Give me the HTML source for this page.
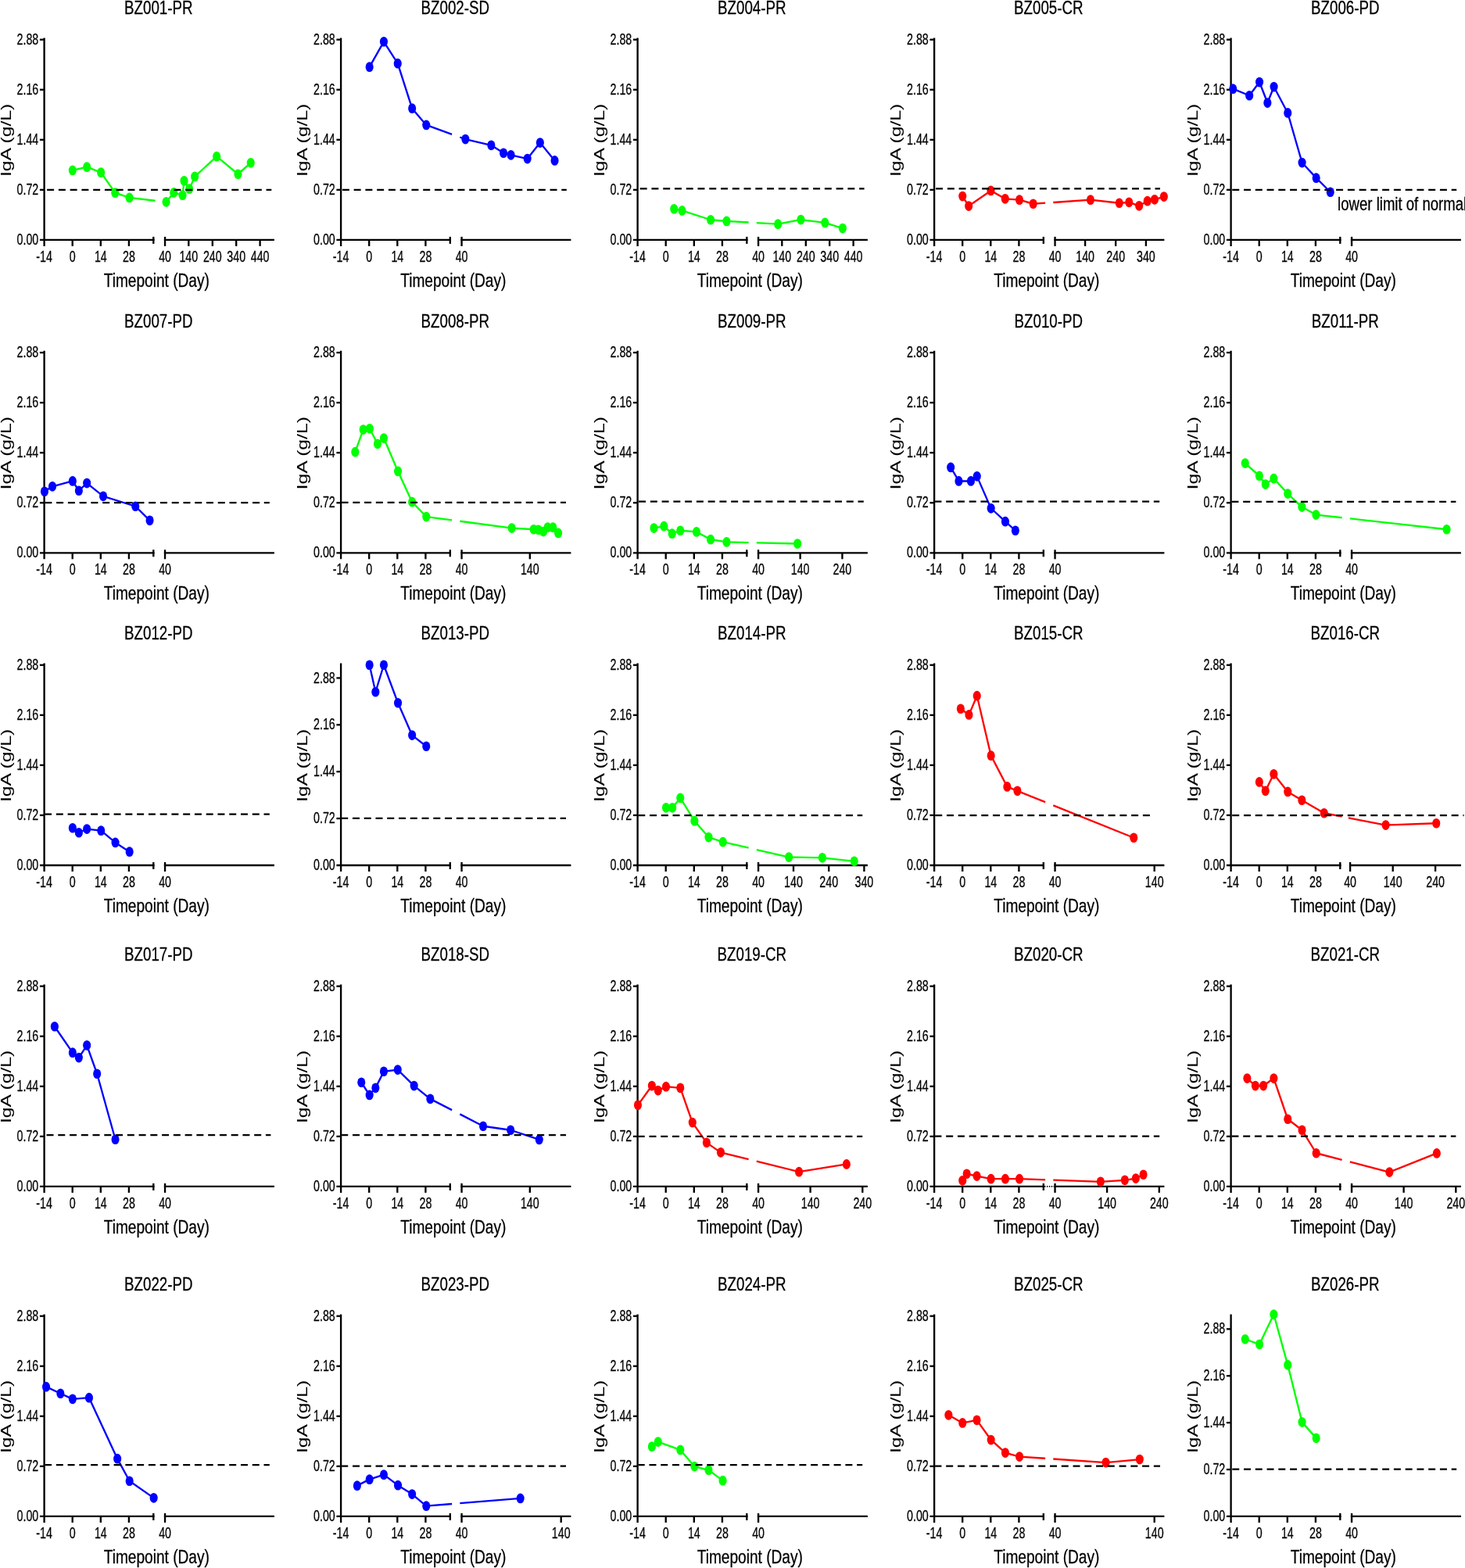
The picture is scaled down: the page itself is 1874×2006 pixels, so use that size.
<!DOCTYPE html>
<html lang="en">
<head>
<meta charset="utf-8">
<title>Serum IgA over time by patient</title>
<style>
html, body { margin: 0; padding: 0; background: #fff; }
body { width: 1874px; height: 2006px; overflow: hidden; }
svg { display: block; }
svg text { font-family: "Liberation Sans", sans-serif; fill: #000; stroke: #000; stroke-linejoin: round; }
text.t { font-size: 24.7px; stroke-width: 0.3; }
text.x { font-size: 24.6px; stroke-width: 0.3; }
text.y { font-size: 24.7px; stroke-width: 0.1; }
text.k { font-size: 19.5px; stroke-width: 0.3; }
text.n { font-size: 23.7px; stroke-width: 0.3; }
.ax path { stroke: #000; fill: none; }
.dl { fill: none; stroke: #000; stroke-width: 2.25; stroke-dasharray: 9 5.76; }
.ln { fill: none; stroke-width: 2.35; stroke-linejoin: round; }
.m { stroke: none; }
</style>
</head>
<body>
<svg width="1874" height="2006" viewBox="0 0 1874 2006">
<rect x="0" y="0" width="1874" height="2006" fill="#fff"/>
<g class="panel">
<text class="t" transform="translate(202.8 18.3) scale(0.758 1)" text-anchor="middle">BZ001-PR</text>
<g class="ax">
<path d="M56.6 48.4V314.9" stroke-width="2.35"/>
<path d="M50.9 242.85H56.6" stroke-width="2.3"/>
<path d="M50.9 178.8H56.6" stroke-width="2.3"/>
<path d="M50.9 114.75H56.6" stroke-width="2.3"/>
<path d="M50.9 50.7H56.6" stroke-width="2.3"/>
<path d="M50.9 306.9H197.47" stroke-width="2.3"/>
<path d="M209.87 306.9H350.9" stroke-width="2.3"/>
<path d="M92.7 306.9V314.9" stroke-width="2.35"/>
<path d="M128.8 306.9V314.9" stroke-width="2.35"/>
<path d="M164.9 306.9V314.9" stroke-width="2.35"/>
<path d="M196.3 302.9V311.9" stroke-width="2.35"/>
<path d="M211.05 302.9V314.9" stroke-width="2.35"/>
<path d="M241.3 306.9V314.9" stroke-width="2.35"/>
<path d="M271.8 306.9V314.9" stroke-width="2.35"/>
<path d="M302.2 306.9V314.9" stroke-width="2.35"/>
<path d="M332.6 306.9V314.9" stroke-width="2.35"/>
</g>
<text class="k" transform="translate(49.3 313) scale(0.731 1)" text-anchor="end">0.00</text>
<text class="k" transform="translate(49.3 248.95) scale(0.731 1)" text-anchor="end">0.72</text>
<text class="k" transform="translate(49.3 184.9) scale(0.731 1)" text-anchor="end">1.44</text>
<text class="k" transform="translate(49.3 120.85) scale(0.731 1)" text-anchor="end">2.16</text>
<text class="k" transform="translate(49.3 56.8) scale(0.731 1)" text-anchor="end">2.88</text>
<text class="k" transform="translate(56.6 334.9) scale(0.731 1)" text-anchor="middle">-14</text>
<text class="k" transform="translate(92.7 334.9) scale(0.731 1)" text-anchor="middle">0</text>
<text class="k" transform="translate(128.8 334.9) scale(0.731 1)" text-anchor="middle">14</text>
<text class="k" transform="translate(164.9 334.9) scale(0.731 1)" text-anchor="middle">28</text>
<text class="k" transform="translate(211.05 334.9) scale(0.731 1)" text-anchor="middle">40</text>
<text class="k" transform="translate(241.3 334.9) scale(0.731 1)" text-anchor="middle">140</text>
<text class="k" transform="translate(271.8 334.9) scale(0.731 1)" text-anchor="middle">240</text>
<text class="k" transform="translate(302.2 334.9) scale(0.731 1)" text-anchor="middle">340</text>
<text class="k" transform="translate(332.6 334.9) scale(0.731 1)" text-anchor="middle">440</text>
<text class="x" transform="translate(200.3 367) scale(0.777 1)" text-anchor="middle">Timepoint (Day)</text>
<text class="y" transform="translate(13.9 179.35) rotate(-90) scale(1 0.777)" text-anchor="middle">IgA (g/L)</text>
<g fill="#00ff00" stroke="#00ff00">
<polyline class="ln" points="92.85,217.95 111.15,213.65 129.15,220.65 147.25,246.65 165.55,252.95 198.6,256.75"/>
<polyline class="ln" points="208.8,257.92 212.55,258.35 222.25,246.45 233.55,249.65 235.55,231.35 242.15,241.65 249.15,225.95 277.15,200.15 304.45,222.75 320.75,208.25"/>
<ellipse class="m" cx="92.85" cy="217.95" rx="5.05" ry="6.35"/>
<ellipse class="m" cx="111.15" cy="213.65" rx="5.05" ry="6.35"/>
<ellipse class="m" cx="129.15" cy="220.65" rx="5.05" ry="6.35"/>
<ellipse class="m" cx="147.25" cy="246.65" rx="5.05" ry="6.35"/>
<ellipse class="m" cx="165.55" cy="252.95" rx="5.05" ry="6.35"/>
<ellipse class="m" cx="212.55" cy="258.35" rx="5.05" ry="6.35"/>
<ellipse class="m" cx="222.25" cy="246.45" rx="5.05" ry="6.35"/>
<ellipse class="m" cx="233.55" cy="249.65" rx="5.05" ry="6.35"/>
<ellipse class="m" cx="235.55" cy="231.35" rx="5.05" ry="6.35"/>
<ellipse class="m" cx="242.15" cy="241.65" rx="5.05" ry="6.35"/>
<ellipse class="m" cx="249.15" cy="225.95" rx="5.05" ry="6.35"/>
<ellipse class="m" cx="277.15" cy="200.15" rx="5.05" ry="6.35"/>
<ellipse class="m" cx="304.45" cy="222.75" rx="5.05" ry="6.35"/>
<ellipse class="m" cx="320.75" cy="208.25" rx="5.05" ry="6.35"/>
</g>
<path class="dl" d="M60.1 242.8H347.3" stroke-dashoffset="0"/>
</g>
<g class="panel">
<text class="t" transform="translate(582.3 18.3) scale(0.758 1)" text-anchor="middle">BZ002-SD</text>
<g class="ax">
<path d="M436.1 48.4V314.9" stroke-width="2.35"/>
<path d="M430.4 242.85H436.1" stroke-width="2.3"/>
<path d="M430.4 178.8H436.1" stroke-width="2.3"/>
<path d="M430.4 114.75H436.1" stroke-width="2.3"/>
<path d="M430.4 50.7H436.1" stroke-width="2.3"/>
<path d="M430.4 306.9H576.97" stroke-width="2.3"/>
<path d="M589.38 306.9H730.4" stroke-width="2.3"/>
<path d="M472.2 306.9V314.9" stroke-width="2.35"/>
<path d="M508.3 306.9V314.9" stroke-width="2.35"/>
<path d="M544.4 306.9V314.9" stroke-width="2.35"/>
<path d="M575.8 302.9V311.9" stroke-width="2.35"/>
<path d="M590.55 302.9V314.9" stroke-width="2.35"/>
</g>
<text class="k" transform="translate(428.8 313) scale(0.731 1)" text-anchor="end">0.00</text>
<text class="k" transform="translate(428.8 248.95) scale(0.731 1)" text-anchor="end">0.72</text>
<text class="k" transform="translate(428.8 184.9) scale(0.731 1)" text-anchor="end">1.44</text>
<text class="k" transform="translate(428.8 120.85) scale(0.731 1)" text-anchor="end">2.16</text>
<text class="k" transform="translate(428.8 56.8) scale(0.731 1)" text-anchor="end">2.88</text>
<text class="k" transform="translate(436.1 334.9) scale(0.731 1)" text-anchor="middle">-14</text>
<text class="k" transform="translate(472.2 334.9) scale(0.731 1)" text-anchor="middle">0</text>
<text class="k" transform="translate(508.3 334.9) scale(0.731 1)" text-anchor="middle">14</text>
<text class="k" transform="translate(544.4 334.9) scale(0.731 1)" text-anchor="middle">28</text>
<text class="k" transform="translate(590.55 334.9) scale(0.731 1)" text-anchor="middle">40</text>
<text class="x" transform="translate(579.8 367) scale(0.777 1)" text-anchor="middle">Timepoint (Day)</text>
<text class="y" transform="translate(393.4 179.35) rotate(-90) scale(1 0.777)" text-anchor="middle">IgA (g/L)</text>
<g fill="#0000ff" stroke="#0000ff">
<polyline class="ln" points="472.65,85.65 490.95,53.35 508.75,81.15 527.15,138.65 545.25,159.95 578.1,171.82"/>
<polyline class="ln" points="588.3,175.5 595.35,178.05 628.35,185.85 644.05,195.75 653.55,198.35 674.65,203.05 690.85,182.55 709.55,205.45"/>
<ellipse class="m" cx="472.65" cy="85.65" rx="5.05" ry="6.35"/>
<ellipse class="m" cx="490.95" cy="53.35" rx="5.05" ry="6.35"/>
<ellipse class="m" cx="508.75" cy="81.15" rx="5.05" ry="6.35"/>
<ellipse class="m" cx="527.15" cy="138.65" rx="5.05" ry="6.35"/>
<ellipse class="m" cx="545.25" cy="159.95" rx="5.05" ry="6.35"/>
<ellipse class="m" cx="595.35" cy="178.05" rx="5.05" ry="6.35"/>
<ellipse class="m" cx="628.35" cy="185.85" rx="5.05" ry="6.35"/>
<ellipse class="m" cx="644.05" cy="195.75" rx="5.05" ry="6.35"/>
<ellipse class="m" cx="653.55" cy="198.35" rx="5.05" ry="6.35"/>
<ellipse class="m" cx="674.65" cy="203.05" rx="5.05" ry="6.35"/>
<ellipse class="m" cx="690.85" cy="182.55" rx="5.05" ry="6.35"/>
<ellipse class="m" cx="709.55" cy="205.45" rx="5.05" ry="6.35"/>
</g>
<path class="dl" d="M437.86 242.8H724.8" stroke-dashoffset="0"/>
</g>
<g class="panel">
<text class="t" transform="translate(961.8 18.3) scale(0.758 1)" text-anchor="middle">BZ004-PR</text>
<g class="ax">
<path d="M815.6 48.4V314.9" stroke-width="2.35"/>
<path d="M809.9 242.85H815.6" stroke-width="2.3"/>
<path d="M809.9 178.8H815.6" stroke-width="2.3"/>
<path d="M809.9 114.75H815.6" stroke-width="2.3"/>
<path d="M809.9 50.7H815.6" stroke-width="2.3"/>
<path d="M809.9 306.9H956.47" stroke-width="2.3"/>
<path d="M968.88 306.9H1109.9" stroke-width="2.3"/>
<path d="M851.7 306.9V314.9" stroke-width="2.35"/>
<path d="M887.8 306.9V314.9" stroke-width="2.35"/>
<path d="M923.9 306.9V314.9" stroke-width="2.35"/>
<path d="M955.3 302.9V311.9" stroke-width="2.35"/>
<path d="M970.05 302.9V314.9" stroke-width="2.35"/>
<path d="M1000.3 306.9V314.9" stroke-width="2.35"/>
<path d="M1030.8 306.9V314.9" stroke-width="2.35"/>
<path d="M1061.2 306.9V314.9" stroke-width="2.35"/>
<path d="M1091.6 306.9V314.9" stroke-width="2.35"/>
</g>
<text class="k" transform="translate(808.3 313) scale(0.731 1)" text-anchor="end">0.00</text>
<text class="k" transform="translate(808.3 248.95) scale(0.731 1)" text-anchor="end">0.72</text>
<text class="k" transform="translate(808.3 184.9) scale(0.731 1)" text-anchor="end">1.44</text>
<text class="k" transform="translate(808.3 120.85) scale(0.731 1)" text-anchor="end">2.16</text>
<text class="k" transform="translate(808.3 56.8) scale(0.731 1)" text-anchor="end">2.88</text>
<text class="k" transform="translate(815.6 334.9) scale(0.731 1)" text-anchor="middle">-14</text>
<text class="k" transform="translate(851.7 334.9) scale(0.731 1)" text-anchor="middle">0</text>
<text class="k" transform="translate(887.8 334.9) scale(0.731 1)" text-anchor="middle">14</text>
<text class="k" transform="translate(923.9 334.9) scale(0.731 1)" text-anchor="middle">28</text>
<text class="k" transform="translate(970.05 334.9) scale(0.731 1)" text-anchor="middle">40</text>
<text class="k" transform="translate(1000.3 334.9) scale(0.731 1)" text-anchor="middle">140</text>
<text class="k" transform="translate(1030.8 334.9) scale(0.731 1)" text-anchor="middle">240</text>
<text class="k" transform="translate(1061.2 334.9) scale(0.731 1)" text-anchor="middle">340</text>
<text class="k" transform="translate(1091.6 334.9) scale(0.731 1)" text-anchor="middle">440</text>
<text class="x" transform="translate(959.3 367) scale(0.777 1)" text-anchor="middle">Timepoint (Day)</text>
<text class="y" transform="translate(772.9 179.35) rotate(-90) scale(1 0.777)" text-anchor="middle">IgA (g/L)</text>
<g fill="#00ff00" stroke="#00ff00">
<polyline class="ln" points="862.25,267.25 872.55,269.45 909.05,281.25 929.45,282.95 957.6,284.54"/>
<polyline class="ln" points="967.8,285.11 995.15,286.65 1024.45,281.05 1055.25,284.95 1077.85,292.05"/>
<ellipse class="m" cx="862.25" cy="267.25" rx="5.05" ry="6.35"/>
<ellipse class="m" cx="872.55" cy="269.45" rx="5.05" ry="6.35"/>
<ellipse class="m" cx="909.05" cy="281.25" rx="5.05" ry="6.35"/>
<ellipse class="m" cx="929.45" cy="282.95" rx="5.05" ry="6.35"/>
<ellipse class="m" cx="995.15" cy="286.65" rx="5.05" ry="6.35"/>
<ellipse class="m" cx="1024.45" cy="281.05" rx="5.05" ry="6.35"/>
<ellipse class="m" cx="1055.25" cy="284.95" rx="5.05" ry="6.35"/>
<ellipse class="m" cx="1077.85" cy="292.05" rx="5.05" ry="6.35"/>
</g>
<path class="dl" d="M818.66 241.3H1105.6" stroke-dashoffset="0"/>
</g>
<g class="panel">
<text class="t" transform="translate(1341.3 18.3) scale(0.758 1)" text-anchor="middle">BZ005-CR</text>
<g class="ax">
<path d="M1195.1 48.4V314.9" stroke-width="2.35"/>
<path d="M1189.4 242.85H1195.1" stroke-width="2.3"/>
<path d="M1189.4 178.8H1195.1" stroke-width="2.3"/>
<path d="M1189.4 114.75H1195.1" stroke-width="2.3"/>
<path d="M1189.4 50.7H1195.1" stroke-width="2.3"/>
<path d="M1189.4 306.9H1335.97" stroke-width="2.3"/>
<path d="M1348.38 306.9H1489.4" stroke-width="2.3"/>
<path d="M1231.2 306.9V314.9" stroke-width="2.35"/>
<path d="M1267.3 306.9V314.9" stroke-width="2.35"/>
<path d="M1303.4 306.9V314.9" stroke-width="2.35"/>
<path d="M1334.8 302.9V311.9" stroke-width="2.35"/>
<path d="M1349.55 302.9V314.9" stroke-width="2.35"/>
<path d="M1388.1 306.9V314.9" stroke-width="2.35"/>
<path d="M1427.2 306.9V314.9" stroke-width="2.35"/>
<path d="M1465.9 306.9V314.9" stroke-width="2.35"/>
</g>
<text class="k" transform="translate(1187.8 313) scale(0.731 1)" text-anchor="end">0.00</text>
<text class="k" transform="translate(1187.8 248.95) scale(0.731 1)" text-anchor="end">0.72</text>
<text class="k" transform="translate(1187.8 184.9) scale(0.731 1)" text-anchor="end">1.44</text>
<text class="k" transform="translate(1187.8 120.85) scale(0.731 1)" text-anchor="end">2.16</text>
<text class="k" transform="translate(1187.8 56.8) scale(0.731 1)" text-anchor="end">2.88</text>
<text class="k" transform="translate(1195.1 334.9) scale(0.731 1)" text-anchor="middle">-14</text>
<text class="k" transform="translate(1231.2 334.9) scale(0.731 1)" text-anchor="middle">0</text>
<text class="k" transform="translate(1267.3 334.9) scale(0.731 1)" text-anchor="middle">14</text>
<text class="k" transform="translate(1303.4 334.9) scale(0.731 1)" text-anchor="middle">28</text>
<text class="k" transform="translate(1349.55 334.9) scale(0.731 1)" text-anchor="middle">40</text>
<text class="k" transform="translate(1388.1 334.9) scale(0.731 1)" text-anchor="middle">140</text>
<text class="k" transform="translate(1427.2 334.9) scale(0.731 1)" text-anchor="middle">240</text>
<text class="k" transform="translate(1465.9 334.9) scale(0.731 1)" text-anchor="middle">340</text>
<text class="x" transform="translate(1338.8 367) scale(0.777 1)" text-anchor="middle">Timepoint (Day)</text>
<text class="y" transform="translate(1152.4 179.35) rotate(-90) scale(1 0.777)" text-anchor="middle">IgA (g/L)</text>
<g fill="#ff0000" stroke="#ff0000">
<polyline class="ln" points="1231.25,251.05 1239.15,263.55 1267.45,243.95 1285.75,254.35 1304.05,255.65 1321.65,260.75 1337.1,259.68"/>
<polyline class="ln" points="1347.3,258.97 1394.95,255.65 1431.75,259.75 1444.25,258.85 1457.15,263.35 1467.75,257.15 1476.95,255.35 1488.85,251.55"/>
<ellipse class="m" cx="1231.25" cy="251.05" rx="5.05" ry="6.35"/>
<ellipse class="m" cx="1239.15" cy="263.55" rx="5.05" ry="6.35"/>
<ellipse class="m" cx="1267.45" cy="243.95" rx="5.05" ry="6.35"/>
<ellipse class="m" cx="1285.75" cy="254.35" rx="5.05" ry="6.35"/>
<ellipse class="m" cx="1304.05" cy="255.65" rx="5.05" ry="6.35"/>
<ellipse class="m" cx="1321.65" cy="260.75" rx="5.05" ry="6.35"/>
<ellipse class="m" cx="1394.95" cy="255.65" rx="5.05" ry="6.35"/>
<ellipse class="m" cx="1431.75" cy="259.75" rx="5.05" ry="6.35"/>
<ellipse class="m" cx="1444.25" cy="258.85" rx="5.05" ry="6.35"/>
<ellipse class="m" cx="1457.15" cy="263.35" rx="5.05" ry="6.35"/>
<ellipse class="m" cx="1467.75" cy="257.15" rx="5.05" ry="6.35"/>
<ellipse class="m" cx="1476.95" cy="255.35" rx="5.05" ry="6.35"/>
<ellipse class="m" cx="1488.85" cy="251.55" rx="5.05" ry="6.35"/>
</g>
<path class="dl" d="M1197.05 241.35H1484" stroke-dashoffset="0"/>
</g>
<g class="panel">
<text class="t" transform="translate(1720.8 18.3) scale(0.758 1)" text-anchor="middle">BZ006-PD</text>
<g class="ax">
<path d="M1574.6 48.4V314.9" stroke-width="2.35"/>
<path d="M1568.9 242.85H1574.6" stroke-width="2.3"/>
<path d="M1568.9 178.8H1574.6" stroke-width="2.3"/>
<path d="M1568.9 114.75H1574.6" stroke-width="2.3"/>
<path d="M1568.9 50.7H1574.6" stroke-width="2.3"/>
<path d="M1568.9 306.9H1715.47" stroke-width="2.3"/>
<path d="M1727.88 306.9H1868.9" stroke-width="2.3"/>
<path d="M1610.7 306.9V314.9" stroke-width="2.35"/>
<path d="M1646.8 306.9V314.9" stroke-width="2.35"/>
<path d="M1682.9 306.9V314.9" stroke-width="2.35"/>
<path d="M1714.3 302.9V311.9" stroke-width="2.35"/>
<path d="M1729.05 302.9V314.9" stroke-width="2.35"/>
</g>
<text class="k" transform="translate(1567.3 313) scale(0.731 1)" text-anchor="end">0.00</text>
<text class="k" transform="translate(1567.3 248.95) scale(0.731 1)" text-anchor="end">0.72</text>
<text class="k" transform="translate(1567.3 184.9) scale(0.731 1)" text-anchor="end">1.44</text>
<text class="k" transform="translate(1567.3 120.85) scale(0.731 1)" text-anchor="end">2.16</text>
<text class="k" transform="translate(1567.3 56.8) scale(0.731 1)" text-anchor="end">2.88</text>
<text class="k" transform="translate(1574.6 334.9) scale(0.731 1)" text-anchor="middle">-14</text>
<text class="k" transform="translate(1610.7 334.9) scale(0.731 1)" text-anchor="middle">0</text>
<text class="k" transform="translate(1646.8 334.9) scale(0.731 1)" text-anchor="middle">14</text>
<text class="k" transform="translate(1682.9 334.9) scale(0.731 1)" text-anchor="middle">28</text>
<text class="k" transform="translate(1729.05 334.9) scale(0.731 1)" text-anchor="middle">40</text>
<text class="x" transform="translate(1718.3 367) scale(0.777 1)" text-anchor="middle">Timepoint (Day)</text>
<text class="y" transform="translate(1531.9 179.35) rotate(-90) scale(1 0.777)" text-anchor="middle">IgA (g/L)</text>
<g fill="#0000ff" stroke="#0000ff">
<polyline class="ln" points="1577.25,113.65 1598.15,122.25 1611.05,105.05 1621.35,131.55 1629.55,111.05 1647.25,144.45 1665.55,208.05 1683.65,227.65 1701.75,245.75"/>
<ellipse class="m" cx="1577.25" cy="113.65" rx="5.05" ry="6.35"/>
<ellipse class="m" cx="1598.15" cy="122.25" rx="5.05" ry="6.35"/>
<ellipse class="m" cx="1611.05" cy="105.05" rx="5.05" ry="6.35"/>
<ellipse class="m" cx="1621.35" cy="131.55" rx="5.05" ry="6.35"/>
<ellipse class="m" cx="1629.55" cy="111.05" rx="5.05" ry="6.35"/>
<ellipse class="m" cx="1647.25" cy="144.45" rx="5.05" ry="6.35"/>
<ellipse class="m" cx="1665.55" cy="208.05" rx="5.05" ry="6.35"/>
<ellipse class="m" cx="1683.65" cy="227.65" rx="5.05" ry="6.35"/>
<ellipse class="m" cx="1701.75" cy="245.75" rx="5.05" ry="6.35"/>
</g>
<path class="dl" d="M1576.24 242.9H1863.2" stroke-dashoffset="0"/>
<text class="n" transform="translate(1711.1 268.5) scale(0.784 1)" text-anchor="start">lower limit of normal</text>
</g>
<g class="panel">
<text class="t" transform="translate(202.8 418.7) scale(0.758 1)" text-anchor="middle">BZ007-PD</text>
<g class="ax">
<path d="M56.6 448.8V715.3" stroke-width="2.35"/>
<path d="M50.9 643.25H56.6" stroke-width="2.3"/>
<path d="M50.9 579.2H56.6" stroke-width="2.3"/>
<path d="M50.9 515.15H56.6" stroke-width="2.3"/>
<path d="M50.9 451.1H56.6" stroke-width="2.3"/>
<path d="M50.9 707.3H197.47" stroke-width="2.3"/>
<path d="M209.87 707.3H350.9" stroke-width="2.3"/>
<path d="M92.7 707.3V715.3" stroke-width="2.35"/>
<path d="M128.8 707.3V715.3" stroke-width="2.35"/>
<path d="M164.9 707.3V715.3" stroke-width="2.35"/>
<path d="M196.3 703.3V712.3" stroke-width="2.35"/>
<path d="M211.05 703.3V715.3" stroke-width="2.35"/>
</g>
<text class="k" transform="translate(49.3 713.4) scale(0.731 1)" text-anchor="end">0.00</text>
<text class="k" transform="translate(49.3 649.35) scale(0.731 1)" text-anchor="end">0.72</text>
<text class="k" transform="translate(49.3 585.3) scale(0.731 1)" text-anchor="end">1.44</text>
<text class="k" transform="translate(49.3 521.25) scale(0.731 1)" text-anchor="end">2.16</text>
<text class="k" transform="translate(49.3 457.2) scale(0.731 1)" text-anchor="end">2.88</text>
<text class="k" transform="translate(56.6 735.3) scale(0.731 1)" text-anchor="middle">-14</text>
<text class="k" transform="translate(92.7 735.3) scale(0.731 1)" text-anchor="middle">0</text>
<text class="k" transform="translate(128.8 735.3) scale(0.731 1)" text-anchor="middle">14</text>
<text class="k" transform="translate(164.9 735.3) scale(0.731 1)" text-anchor="middle">28</text>
<text class="k" transform="translate(211.05 735.3) scale(0.731 1)" text-anchor="middle">40</text>
<text class="x" transform="translate(200.3 767.4) scale(0.777 1)" text-anchor="middle">Timepoint (Day)</text>
<text class="y" transform="translate(13.9 579.75) rotate(-90) scale(1 0.777)" text-anchor="middle">IgA (g/L)</text>
<g fill="#0000ff" stroke="#0000ff">
<polyline class="ln" points="56.95,628.75 67.05,622.35 92.85,615.45 100.85,627.75 111.15,618.05 132.05,634.85 173.25,647.75 191.55,665.85"/>
<ellipse class="m" cx="56.95" cy="628.75" rx="5.05" ry="6.35"/>
<ellipse class="m" cx="67.05" cy="622.35" rx="5.05" ry="6.35"/>
<ellipse class="m" cx="92.85" cy="615.45" rx="5.05" ry="6.35"/>
<ellipse class="m" cx="100.85" cy="627.75" rx="5.05" ry="6.35"/>
<ellipse class="m" cx="111.15" cy="618.05" rx="5.05" ry="6.35"/>
<ellipse class="m" cx="132.05" cy="634.85" rx="5.05" ry="6.35"/>
<ellipse class="m" cx="173.25" cy="647.75" rx="5.05" ry="6.35"/>
<ellipse class="m" cx="191.55" cy="665.85" rx="5.05" ry="6.35"/>
</g>
<path class="dl" d="M57.57 643H344.8" stroke-dashoffset="0.22"/>
</g>
<g class="panel">
<text class="t" transform="translate(582.3 418.7) scale(0.758 1)" text-anchor="middle">BZ008-PR</text>
<g class="ax">
<path d="M436.1 448.8V715.3" stroke-width="2.35"/>
<path d="M430.4 643.25H436.1" stroke-width="2.3"/>
<path d="M430.4 579.2H436.1" stroke-width="2.3"/>
<path d="M430.4 515.15H436.1" stroke-width="2.3"/>
<path d="M430.4 451.1H436.1" stroke-width="2.3"/>
<path d="M430.4 707.3H576.97" stroke-width="2.3"/>
<path d="M589.38 707.3H730.4" stroke-width="2.3"/>
<path d="M472.2 707.3V715.3" stroke-width="2.35"/>
<path d="M508.3 707.3V715.3" stroke-width="2.35"/>
<path d="M544.4 707.3V715.3" stroke-width="2.35"/>
<path d="M575.8 703.3V712.3" stroke-width="2.35"/>
<path d="M590.55 703.3V715.3" stroke-width="2.35"/>
<path d="M677.8 707.3V715.3" stroke-width="2.35"/>
</g>
<text class="k" transform="translate(428.8 713.4) scale(0.731 1)" text-anchor="end">0.00</text>
<text class="k" transform="translate(428.8 649.35) scale(0.731 1)" text-anchor="end">0.72</text>
<text class="k" transform="translate(428.8 585.3) scale(0.731 1)" text-anchor="end">1.44</text>
<text class="k" transform="translate(428.8 521.25) scale(0.731 1)" text-anchor="end">2.16</text>
<text class="k" transform="translate(428.8 457.2) scale(0.731 1)" text-anchor="end">2.88</text>
<text class="k" transform="translate(436.1 735.3) scale(0.731 1)" text-anchor="middle">-14</text>
<text class="k" transform="translate(472.2 735.3) scale(0.731 1)" text-anchor="middle">0</text>
<text class="k" transform="translate(508.3 735.3) scale(0.731 1)" text-anchor="middle">14</text>
<text class="k" transform="translate(544.4 735.3) scale(0.731 1)" text-anchor="middle">28</text>
<text class="k" transform="translate(590.55 735.3) scale(0.731 1)" text-anchor="middle">40</text>
<text class="k" transform="translate(677.8 735.3) scale(0.731 1)" text-anchor="middle">140</text>
<text class="x" transform="translate(579.8 767.4) scale(0.777 1)" text-anchor="middle">Timepoint (Day)</text>
<text class="y" transform="translate(393.4 579.75) rotate(-90) scale(1 0.777)" text-anchor="middle">IgA (g/L)</text>
<g fill="#00ff00" stroke="#00ff00">
<polyline class="ln" points="454.35,578.15 464.65,549.55 472.85,548.25 482.95,567.85 490.95,560.55 509.05,602.95 527.15,642.15 545.25,661.05 578.1,665.4"/>
<polyline class="ln" points="588.3,666.76 654.65,675.55 682.65,677.25 688.65,677.85 695.15,680.05 700.55,674.65 707.35,674.65 714.05,681.95"/>
<ellipse class="m" cx="454.35" cy="578.15" rx="5.05" ry="6.35"/>
<ellipse class="m" cx="464.65" cy="549.55" rx="5.05" ry="6.35"/>
<ellipse class="m" cx="472.85" cy="548.25" rx="5.05" ry="6.35"/>
<ellipse class="m" cx="482.95" cy="567.85" rx="5.05" ry="6.35"/>
<ellipse class="m" cx="490.95" cy="560.55" rx="5.05" ry="6.35"/>
<ellipse class="m" cx="509.05" cy="602.95" rx="5.05" ry="6.35"/>
<ellipse class="m" cx="527.15" cy="642.15" rx="5.05" ry="6.35"/>
<ellipse class="m" cx="545.25" cy="661.05" rx="5.05" ry="6.35"/>
<ellipse class="m" cx="654.65" cy="675.55" rx="5.05" ry="6.35"/>
<ellipse class="m" cx="682.65" cy="677.25" rx="5.05" ry="6.35"/>
<ellipse class="m" cx="688.65" cy="677.85" rx="5.05" ry="6.35"/>
<ellipse class="m" cx="695.15" cy="680.05" rx="5.05" ry="6.35"/>
<ellipse class="m" cx="700.55" cy="674.65" rx="5.05" ry="6.35"/>
<ellipse class="m" cx="707.35" cy="674.65" rx="5.05" ry="6.35"/>
<ellipse class="m" cx="714.05" cy="681.95" rx="5.05" ry="6.35"/>
</g>
<path class="dl" d="M437.08 642.9H724" stroke-dashoffset="0.53"/>
</g>
<g class="panel">
<text class="t" transform="translate(961.8 418.7) scale(0.758 1)" text-anchor="middle">BZ009-PR</text>
<g class="ax">
<path d="M815.6 448.8V715.3" stroke-width="2.35"/>
<path d="M809.9 643.25H815.6" stroke-width="2.3"/>
<path d="M809.9 579.2H815.6" stroke-width="2.3"/>
<path d="M809.9 515.15H815.6" stroke-width="2.3"/>
<path d="M809.9 451.1H815.6" stroke-width="2.3"/>
<path d="M809.9 707.3H956.47" stroke-width="2.3"/>
<path d="M968.88 707.3H1109.9" stroke-width="2.3"/>
<path d="M851.7 707.3V715.3" stroke-width="2.35"/>
<path d="M887.8 707.3V715.3" stroke-width="2.35"/>
<path d="M923.9 707.3V715.3" stroke-width="2.35"/>
<path d="M955.3 703.3V712.3" stroke-width="2.35"/>
<path d="M970.05 703.3V715.3" stroke-width="2.35"/>
<path d="M1023.6 707.3V715.3" stroke-width="2.35"/>
<path d="M1077.4 707.3V715.3" stroke-width="2.35"/>
</g>
<text class="k" transform="translate(808.3 713.4) scale(0.731 1)" text-anchor="end">0.00</text>
<text class="k" transform="translate(808.3 649.35) scale(0.731 1)" text-anchor="end">0.72</text>
<text class="k" transform="translate(808.3 585.3) scale(0.731 1)" text-anchor="end">1.44</text>
<text class="k" transform="translate(808.3 521.25) scale(0.731 1)" text-anchor="end">2.16</text>
<text class="k" transform="translate(808.3 457.2) scale(0.731 1)" text-anchor="end">2.88</text>
<text class="k" transform="translate(815.6 735.3) scale(0.731 1)" text-anchor="middle">-14</text>
<text class="k" transform="translate(851.7 735.3) scale(0.731 1)" text-anchor="middle">0</text>
<text class="k" transform="translate(887.8 735.3) scale(0.731 1)" text-anchor="middle">14</text>
<text class="k" transform="translate(923.9 735.3) scale(0.731 1)" text-anchor="middle">28</text>
<text class="k" transform="translate(970.05 735.3) scale(0.731 1)" text-anchor="middle">40</text>
<text class="k" transform="translate(1023.6 735.3) scale(0.731 1)" text-anchor="middle">140</text>
<text class="k" transform="translate(1077.4 735.3) scale(0.731 1)" text-anchor="middle">240</text>
<text class="x" transform="translate(959.3 767.4) scale(0.777 1)" text-anchor="middle">Timepoint (Day)</text>
<text class="y" transform="translate(772.9 579.75) rotate(-90) scale(1 0.777)" text-anchor="middle">IgA (g/L)</text>
<g fill="#00ff00" stroke="#00ff00">
<polyline class="ln" points="836.45,675.55 849.35,673.15 859.65,682.65 870.25,678.75 890.95,680.45 909.05,690.15 929.45,693.45 957.6,694.1"/>
<polyline class="ln" points="967.8,694.34 1020.15,695.55"/>
<ellipse class="m" cx="836.45" cy="675.55" rx="5.05" ry="6.35"/>
<ellipse class="m" cx="849.35" cy="673.15" rx="5.05" ry="6.35"/>
<ellipse class="m" cx="859.65" cy="682.65" rx="5.05" ry="6.35"/>
<ellipse class="m" cx="870.25" cy="678.75" rx="5.05" ry="6.35"/>
<ellipse class="m" cx="890.95" cy="680.45" rx="5.05" ry="6.35"/>
<ellipse class="m" cx="909.05" cy="690.15" rx="5.05" ry="6.35"/>
<ellipse class="m" cx="929.45" cy="693.45" rx="5.05" ry="6.35"/>
<ellipse class="m" cx="1020.15" cy="695.55" rx="5.05" ry="6.35"/>
</g>
<path class="dl" d="M817.05 641.7H1104.8" stroke-dashoffset="0"/>
</g>
<g class="panel">
<text class="t" transform="translate(1341.3 418.7) scale(0.758 1)" text-anchor="middle">BZ010-PD</text>
<g class="ax">
<path d="M1195.1 448.8V715.3" stroke-width="2.35"/>
<path d="M1189.4 643.25H1195.1" stroke-width="2.3"/>
<path d="M1189.4 579.2H1195.1" stroke-width="2.3"/>
<path d="M1189.4 515.15H1195.1" stroke-width="2.3"/>
<path d="M1189.4 451.1H1195.1" stroke-width="2.3"/>
<path d="M1189.4 707.3H1335.97" stroke-width="2.3"/>
<path d="M1348.38 707.3H1489.4" stroke-width="2.3"/>
<path d="M1231.2 707.3V715.3" stroke-width="2.35"/>
<path d="M1267.3 707.3V715.3" stroke-width="2.35"/>
<path d="M1303.4 707.3V715.3" stroke-width="2.35"/>
<path d="M1334.8 703.3V712.3" stroke-width="2.35"/>
<path d="M1349.55 703.3V715.3" stroke-width="2.35"/>
</g>
<text class="k" transform="translate(1187.8 713.4) scale(0.731 1)" text-anchor="end">0.00</text>
<text class="k" transform="translate(1187.8 649.35) scale(0.731 1)" text-anchor="end">0.72</text>
<text class="k" transform="translate(1187.8 585.3) scale(0.731 1)" text-anchor="end">1.44</text>
<text class="k" transform="translate(1187.8 521.25) scale(0.731 1)" text-anchor="end">2.16</text>
<text class="k" transform="translate(1187.8 457.2) scale(0.731 1)" text-anchor="end">2.88</text>
<text class="k" transform="translate(1195.1 735.3) scale(0.731 1)" text-anchor="middle">-14</text>
<text class="k" transform="translate(1231.2 735.3) scale(0.731 1)" text-anchor="middle">0</text>
<text class="k" transform="translate(1267.3 735.3) scale(0.731 1)" text-anchor="middle">14</text>
<text class="k" transform="translate(1303.4 735.3) scale(0.731 1)" text-anchor="middle">28</text>
<text class="k" transform="translate(1349.55 735.3) scale(0.731 1)" text-anchor="middle">40</text>
<text class="x" transform="translate(1338.8 767.4) scale(0.777 1)" text-anchor="middle">Timepoint (Day)</text>
<text class="y" transform="translate(1152.4 579.75) rotate(-90) scale(1 0.777)" text-anchor="middle">IgA (g/L)</text>
<g fill="#0000ff" stroke="#0000ff">
<polyline class="ln" points="1216.15,597.95 1226.45,615.45 1241.95,615.45 1249.75,609.35 1267.65,650.35 1285.95,667.15 1298.85,678.75"/>
<ellipse class="m" cx="1216.15" cy="597.95" rx="5.05" ry="6.35"/>
<ellipse class="m" cx="1226.45" cy="615.45" rx="5.05" ry="6.35"/>
<ellipse class="m" cx="1241.95" cy="615.45" rx="5.05" ry="6.35"/>
<ellipse class="m" cx="1249.75" cy="609.35" rx="5.05" ry="6.35"/>
<ellipse class="m" cx="1267.65" cy="650.35" rx="5.05" ry="6.35"/>
<ellipse class="m" cx="1285.95" cy="667.15" rx="5.05" ry="6.35"/>
<ellipse class="m" cx="1298.85" cy="678.75" rx="5.05" ry="6.35"/>
</g>
<path class="dl" d="M1196.07 641.7H1483.2" stroke-dashoffset="0.67"/>
</g>
<g class="panel">
<text class="t" transform="translate(1720.8 418.7) scale(0.758 1)" text-anchor="middle">BZ011-PR</text>
<g class="ax">
<path d="M1574.6 448.8V715.3" stroke-width="2.35"/>
<path d="M1568.9 643.25H1574.6" stroke-width="2.3"/>
<path d="M1568.9 579.2H1574.6" stroke-width="2.3"/>
<path d="M1568.9 515.15H1574.6" stroke-width="2.3"/>
<path d="M1568.9 451.1H1574.6" stroke-width="2.3"/>
<path d="M1568.9 707.3H1715.47" stroke-width="2.3"/>
<path d="M1727.88 707.3H1868.9" stroke-width="2.3"/>
<path d="M1610.7 707.3V715.3" stroke-width="2.35"/>
<path d="M1646.8 707.3V715.3" stroke-width="2.35"/>
<path d="M1682.9 707.3V715.3" stroke-width="2.35"/>
<path d="M1714.3 703.3V712.3" stroke-width="2.35"/>
<path d="M1729.05 703.3V715.3" stroke-width="2.35"/>
</g>
<text class="k" transform="translate(1567.3 713.4) scale(0.731 1)" text-anchor="end">0.00</text>
<text class="k" transform="translate(1567.3 649.35) scale(0.731 1)" text-anchor="end">0.72</text>
<text class="k" transform="translate(1567.3 585.3) scale(0.731 1)" text-anchor="end">1.44</text>
<text class="k" transform="translate(1567.3 521.25) scale(0.731 1)" text-anchor="end">2.16</text>
<text class="k" transform="translate(1567.3 457.2) scale(0.731 1)" text-anchor="end">2.88</text>
<text class="k" transform="translate(1574.6 735.3) scale(0.731 1)" text-anchor="middle">-14</text>
<text class="k" transform="translate(1610.7 735.3) scale(0.731 1)" text-anchor="middle">0</text>
<text class="k" transform="translate(1646.8 735.3) scale(0.731 1)" text-anchor="middle">14</text>
<text class="k" transform="translate(1682.9 735.3) scale(0.731 1)" text-anchor="middle">28</text>
<text class="k" transform="translate(1729.05 735.3) scale(0.731 1)" text-anchor="middle">40</text>
<text class="x" transform="translate(1718.3 767.4) scale(0.777 1)" text-anchor="middle">Timepoint (Day)</text>
<text class="y" transform="translate(1531.9 579.75) rotate(-90) scale(1 0.777)" text-anchor="middle">IgA (g/L)</text>
<g fill="#00ff00" stroke="#00ff00">
<polyline class="ln" points="1592.75,592.55 1610.85,608.75 1618.75,619.55 1629.35,612.15 1647.25,631.55 1665.35,648.55 1683.45,658.55 1716.6,662.26"/>
<polyline class="ln" points="1726.8,663.4 1850.55,677.25"/>
<ellipse class="m" cx="1592.75" cy="592.55" rx="5.05" ry="6.35"/>
<ellipse class="m" cx="1610.85" cy="608.75" rx="5.05" ry="6.35"/>
<ellipse class="m" cx="1618.75" cy="619.55" rx="5.05" ry="6.35"/>
<ellipse class="m" cx="1629.35" cy="612.15" rx="5.05" ry="6.35"/>
<ellipse class="m" cx="1647.25" cy="631.55" rx="5.05" ry="6.35"/>
<ellipse class="m" cx="1665.35" cy="648.55" rx="5.05" ry="6.35"/>
<ellipse class="m" cx="1683.45" cy="658.55" rx="5.05" ry="6.35"/>
<ellipse class="m" cx="1850.55" cy="677.25" rx="5.05" ry="6.35"/>
</g>
<path class="dl" d="M1575.57 641.8H1862.4" stroke-dashoffset="0.17"/>
</g>
<g class="panel">
<text class="t" transform="translate(202.8 818.4) scale(0.758 1)" text-anchor="middle">BZ012-PD</text>
<g class="ax">
<path d="M56.6 848.5V1115" stroke-width="2.35"/>
<path d="M50.9 1042.95H56.6" stroke-width="2.3"/>
<path d="M50.9 978.9H56.6" stroke-width="2.3"/>
<path d="M50.9 914.85H56.6" stroke-width="2.3"/>
<path d="M50.9 850.8H56.6" stroke-width="2.3"/>
<path d="M50.9 1107H197.47" stroke-width="2.3"/>
<path d="M209.87 1107H350.9" stroke-width="2.3"/>
<path d="M92.7 1107V1115" stroke-width="2.35"/>
<path d="M128.8 1107V1115" stroke-width="2.35"/>
<path d="M164.9 1107V1115" stroke-width="2.35"/>
<path d="M196.3 1103V1112" stroke-width="2.35"/>
<path d="M211.05 1103V1115" stroke-width="2.35"/>
</g>
<text class="k" transform="translate(49.3 1113.1) scale(0.731 1)" text-anchor="end">0.00</text>
<text class="k" transform="translate(49.3 1049.05) scale(0.731 1)" text-anchor="end">0.72</text>
<text class="k" transform="translate(49.3 985) scale(0.731 1)" text-anchor="end">1.44</text>
<text class="k" transform="translate(49.3 920.95) scale(0.731 1)" text-anchor="end">2.16</text>
<text class="k" transform="translate(49.3 856.9) scale(0.731 1)" text-anchor="end">2.88</text>
<text class="k" transform="translate(56.6 1135) scale(0.731 1)" text-anchor="middle">-14</text>
<text class="k" transform="translate(92.7 1135) scale(0.731 1)" text-anchor="middle">0</text>
<text class="k" transform="translate(128.8 1135) scale(0.731 1)" text-anchor="middle">14</text>
<text class="k" transform="translate(164.9 1135) scale(0.731 1)" text-anchor="middle">28</text>
<text class="k" transform="translate(211.05 1135) scale(0.731 1)" text-anchor="middle">40</text>
<text class="x" transform="translate(200.3 1167.1) scale(0.777 1)" text-anchor="middle">Timepoint (Day)</text>
<text class="y" transform="translate(13.9 979.45) rotate(-90) scale(1 0.777)" text-anchor="middle">IgA (g/L)</text>
<g fill="#0000ff" stroke="#0000ff">
<polyline class="ln" points="92.85,1059.25 100.85,1065.25 111.15,1060.55 129.25,1062.65 147.55,1077.95 165.65,1089.65"/>
<ellipse class="m" cx="92.85" cy="1059.25" rx="5.05" ry="6.35"/>
<ellipse class="m" cx="100.85" cy="1065.25" rx="5.05" ry="6.35"/>
<ellipse class="m" cx="111.15" cy="1060.55" rx="5.05" ry="6.35"/>
<ellipse class="m" cx="129.25" cy="1062.65" rx="5.05" ry="6.35"/>
<ellipse class="m" cx="147.55" cy="1077.95" rx="5.05" ry="6.35"/>
<ellipse class="m" cx="165.65" cy="1089.65" rx="5.05" ry="6.35"/>
</g>
<path class="dl" d="M57.57 1041.7H344.8" stroke-dashoffset="0.52"/>
</g>
<g class="panel">
<text class="t" transform="translate(582.3 818.4) scale(0.758 1)" text-anchor="middle">BZ013-PD</text>
<g class="ax">
<path d="M436.1 848.5V1115" stroke-width="2.35"/>
<path d="M430.4 1047.1H436.1" stroke-width="2.3"/>
<path d="M430.4 987.2H436.1" stroke-width="2.3"/>
<path d="M430.4 927.3H436.1" stroke-width="2.3"/>
<path d="M430.4 867.4H436.1" stroke-width="2.3"/>
<path d="M430.4 1107H576.97" stroke-width="2.3"/>
<path d="M589.38 1107H730.4" stroke-width="2.3"/>
<path d="M472.2 1107V1115" stroke-width="2.35"/>
<path d="M508.3 1107V1115" stroke-width="2.35"/>
<path d="M544.4 1107V1115" stroke-width="2.35"/>
<path d="M575.8 1103V1112" stroke-width="2.35"/>
<path d="M590.55 1103V1115" stroke-width="2.35"/>
</g>
<text class="k" transform="translate(428.8 1113.1) scale(0.731 1)" text-anchor="end">0.00</text>
<text class="k" transform="translate(428.8 1053.2) scale(0.731 1)" text-anchor="end">0.72</text>
<text class="k" transform="translate(428.8 993.3) scale(0.731 1)" text-anchor="end">1.44</text>
<text class="k" transform="translate(428.8 933.4) scale(0.731 1)" text-anchor="end">2.16</text>
<text class="k" transform="translate(428.8 873.5) scale(0.731 1)" text-anchor="end">2.88</text>
<text class="k" transform="translate(436.1 1135) scale(0.731 1)" text-anchor="middle">-14</text>
<text class="k" transform="translate(472.2 1135) scale(0.731 1)" text-anchor="middle">0</text>
<text class="k" transform="translate(508.3 1135) scale(0.731 1)" text-anchor="middle">14</text>
<text class="k" transform="translate(544.4 1135) scale(0.731 1)" text-anchor="middle">28</text>
<text class="k" transform="translate(590.55 1135) scale(0.731 1)" text-anchor="middle">40</text>
<text class="x" transform="translate(579.8 1167.1) scale(0.777 1)" text-anchor="middle">Timepoint (Day)</text>
<text class="y" transform="translate(393.4 979.45) rotate(-90) scale(1 0.777)" text-anchor="middle">IgA (g/L)</text>
<g fill="#0000ff" stroke="#0000ff">
<polyline class="ln" points="472.65,850.75 480.35,885.25 490.95,850.75 509.05,899.25 527.15,940.55 545.25,954.75"/>
<ellipse class="m" cx="472.65" cy="850.75" rx="5.05" ry="6.35"/>
<ellipse class="m" cx="480.35" cy="885.25" rx="5.05" ry="6.35"/>
<ellipse class="m" cx="490.95" cy="850.75" rx="5.05" ry="6.35"/>
<ellipse class="m" cx="509.05" cy="899.25" rx="5.05" ry="6.35"/>
<ellipse class="m" cx="527.15" cy="940.55" rx="5.05" ry="6.35"/>
<ellipse class="m" cx="545.25" cy="954.75" rx="5.05" ry="6.35"/>
</g>
<path class="dl" d="M437.08 1046.9H724" stroke-dashoffset="0.88"/>
</g>
<g class="panel">
<text class="t" transform="translate(961.8 818.4) scale(0.758 1)" text-anchor="middle">BZ014-PR</text>
<g class="ax">
<path d="M815.6 848.5V1115" stroke-width="2.35"/>
<path d="M809.9 1042.95H815.6" stroke-width="2.3"/>
<path d="M809.9 978.9H815.6" stroke-width="2.3"/>
<path d="M809.9 914.85H815.6" stroke-width="2.3"/>
<path d="M809.9 850.8H815.6" stroke-width="2.3"/>
<path d="M809.9 1107H956.47" stroke-width="2.3"/>
<path d="M968.88 1107H1109.9" stroke-width="2.3"/>
<path d="M851.7 1107V1115" stroke-width="2.35"/>
<path d="M887.8 1107V1115" stroke-width="2.35"/>
<path d="M923.9 1107V1115" stroke-width="2.35"/>
<path d="M955.3 1103V1112" stroke-width="2.35"/>
<path d="M970.05 1103V1115" stroke-width="2.35"/>
<path d="M1015 1107V1115" stroke-width="2.35"/>
<path d="M1060.2 1107V1115" stroke-width="2.35"/>
<path d="M1105.4 1107V1115" stroke-width="2.35"/>
</g>
<text class="k" transform="translate(808.3 1113.1) scale(0.731 1)" text-anchor="end">0.00</text>
<text class="k" transform="translate(808.3 1049.05) scale(0.731 1)" text-anchor="end">0.72</text>
<text class="k" transform="translate(808.3 985) scale(0.731 1)" text-anchor="end">1.44</text>
<text class="k" transform="translate(808.3 920.95) scale(0.731 1)" text-anchor="end">2.16</text>
<text class="k" transform="translate(808.3 856.9) scale(0.731 1)" text-anchor="end">2.88</text>
<text class="k" transform="translate(815.6 1135) scale(0.731 1)" text-anchor="middle">-14</text>
<text class="k" transform="translate(851.7 1135) scale(0.731 1)" text-anchor="middle">0</text>
<text class="k" transform="translate(887.8 1135) scale(0.731 1)" text-anchor="middle">14</text>
<text class="k" transform="translate(923.9 1135) scale(0.731 1)" text-anchor="middle">28</text>
<text class="k" transform="translate(970.05 1135) scale(0.731 1)" text-anchor="middle">40</text>
<text class="k" transform="translate(1015 1135) scale(0.731 1)" text-anchor="middle">140</text>
<text class="k" transform="translate(1060.2 1135) scale(0.731 1)" text-anchor="middle">240</text>
<text class="k" transform="translate(1105.4 1135) scale(0.731 1)" text-anchor="middle">340</text>
<text class="x" transform="translate(959.3 1167.1) scale(0.777 1)" text-anchor="middle">Timepoint (Day)</text>
<text class="y" transform="translate(772.9 979.45) rotate(-90) scale(1 0.777)" text-anchor="middle">IgA (g/L)</text>
<g fill="#00ff00" stroke="#00ff00">
<polyline class="ln" points="851.95,1033.35 860.15,1033.35 870.25,1020.95 888.35,1050.15 906.45,1071.05 924.75,1077.15 957.6,1084.7"/>
<polyline class="ln" points="967.8,1087.05 1009.15,1096.55 1051.85,1097.35 1092.75,1101.85"/>
<ellipse class="m" cx="851.95" cy="1033.35" rx="5.05" ry="6.35"/>
<ellipse class="m" cx="860.15" cy="1033.35" rx="5.05" ry="6.35"/>
<ellipse class="m" cx="870.25" cy="1020.95" rx="5.05" ry="6.35"/>
<ellipse class="m" cx="888.35" cy="1050.15" rx="5.05" ry="6.35"/>
<ellipse class="m" cx="906.45" cy="1071.05" rx="5.05" ry="6.35"/>
<ellipse class="m" cx="924.75" cy="1077.15" rx="5.05" ry="6.35"/>
<ellipse class="m" cx="1009.15" cy="1096.55" rx="5.05" ry="6.35"/>
<ellipse class="m" cx="1051.85" cy="1097.35" rx="5.05" ry="6.35"/>
<ellipse class="m" cx="1092.75" cy="1101.85" rx="5.05" ry="6.35"/>
</g>
<path class="dl" d="M816.57 1043H1103.2" stroke-dashoffset="0.33"/>
</g>
<g class="panel">
<text class="t" transform="translate(1341.3 818.4) scale(0.758 1)" text-anchor="middle">BZ015-CR</text>
<g class="ax">
<path d="M1195.1 848.5V1115" stroke-width="2.35"/>
<path d="M1189.4 1042.95H1195.1" stroke-width="2.3"/>
<path d="M1189.4 978.9H1195.1" stroke-width="2.3"/>
<path d="M1189.4 914.85H1195.1" stroke-width="2.3"/>
<path d="M1189.4 850.8H1195.1" stroke-width="2.3"/>
<path d="M1189.4 1107H1335.97" stroke-width="2.3"/>
<path d="M1348.38 1107H1489.4" stroke-width="2.3"/>
<path d="M1231.2 1107V1115" stroke-width="2.35"/>
<path d="M1267.3 1107V1115" stroke-width="2.35"/>
<path d="M1303.4 1107V1115" stroke-width="2.35"/>
<path d="M1334.8 1103V1112" stroke-width="2.35"/>
<path d="M1349.55 1103V1115" stroke-width="2.35"/>
<path d="M1476.7 1107V1115" stroke-width="2.35"/>
</g>
<text class="k" transform="translate(1187.8 1113.1) scale(0.731 1)" text-anchor="end">0.00</text>
<text class="k" transform="translate(1187.8 1049.05) scale(0.731 1)" text-anchor="end">0.72</text>
<text class="k" transform="translate(1187.8 985) scale(0.731 1)" text-anchor="end">1.44</text>
<text class="k" transform="translate(1187.8 920.95) scale(0.731 1)" text-anchor="end">2.16</text>
<text class="k" transform="translate(1187.8 856.9) scale(0.731 1)" text-anchor="end">2.88</text>
<text class="k" transform="translate(1195.1 1135) scale(0.731 1)" text-anchor="middle">-14</text>
<text class="k" transform="translate(1231.2 1135) scale(0.731 1)" text-anchor="middle">0</text>
<text class="k" transform="translate(1267.3 1135) scale(0.731 1)" text-anchor="middle">14</text>
<text class="k" transform="translate(1303.4 1135) scale(0.731 1)" text-anchor="middle">28</text>
<text class="k" transform="translate(1349.55 1135) scale(0.731 1)" text-anchor="middle">40</text>
<text class="k" transform="translate(1476.7 1135) scale(0.731 1)" text-anchor="middle">140</text>
<text class="x" transform="translate(1338.8 1167.1) scale(0.777 1)" text-anchor="middle">Timepoint (Day)</text>
<text class="y" transform="translate(1152.4 979.45) rotate(-90) scale(1 0.777)" text-anchor="middle">IgA (g/L)</text>
<g fill="#ff0000" stroke="#ff0000">
<polyline class="ln" points="1228.85,906.75 1239.45,914.45 1249.75,890.15 1267.65,966.65 1288.35,1006.45 1301.45,1011.85 1337.1,1026.2"/>
<polyline class="ln" points="1347.3,1030.31 1450.25,1071.75"/>
<ellipse class="m" cx="1228.85" cy="906.75" rx="5.05" ry="6.35"/>
<ellipse class="m" cx="1239.45" cy="914.45" rx="5.05" ry="6.35"/>
<ellipse class="m" cx="1249.75" cy="890.15" rx="5.05" ry="6.35"/>
<ellipse class="m" cx="1267.65" cy="966.65" rx="5.05" ry="6.35"/>
<ellipse class="m" cx="1288.35" cy="1006.45" rx="5.05" ry="6.35"/>
<ellipse class="m" cx="1301.45" cy="1011.85" rx="5.05" ry="6.35"/>
<ellipse class="m" cx="1450.25" cy="1071.75" rx="5.05" ry="6.35"/>
</g>
<path class="dl" d="M1196.2 1043H1471.1" stroke-dashoffset="0"/>
</g>
<g class="panel">
<text class="t" transform="translate(1720.8 818.4) scale(0.758 1)" text-anchor="middle">BZ016-CR</text>
<g class="ax">
<path d="M1574.6 848.5V1115" stroke-width="2.35"/>
<path d="M1568.9 1042.95H1574.6" stroke-width="2.3"/>
<path d="M1568.9 978.9H1574.6" stroke-width="2.3"/>
<path d="M1568.9 914.85H1574.6" stroke-width="2.3"/>
<path d="M1568.9 850.8H1574.6" stroke-width="2.3"/>
<path d="M1568.9 1107H1715.47" stroke-width="2.3"/>
<path d="M1725.92 1107H1868.9" stroke-width="2.3"/>
<path d="M1610.7 1107V1115" stroke-width="2.35"/>
<path d="M1646.8 1107V1115" stroke-width="2.35"/>
<path d="M1682.9 1107V1115" stroke-width="2.35"/>
<path d="M1714.3 1103V1112" stroke-width="2.35"/>
<path d="M1727.1 1103V1115" stroke-width="2.35"/>
<path d="M1781.7 1107V1115" stroke-width="2.35"/>
<path d="M1836.1 1107V1115" stroke-width="2.35"/>
</g>
<text class="k" transform="translate(1567.3 1113.1) scale(0.731 1)" text-anchor="end">0.00</text>
<text class="k" transform="translate(1567.3 1049.05) scale(0.731 1)" text-anchor="end">0.72</text>
<text class="k" transform="translate(1567.3 985) scale(0.731 1)" text-anchor="end">1.44</text>
<text class="k" transform="translate(1567.3 920.95) scale(0.731 1)" text-anchor="end">2.16</text>
<text class="k" transform="translate(1567.3 856.9) scale(0.731 1)" text-anchor="end">2.88</text>
<text class="k" transform="translate(1574.6 1135) scale(0.731 1)" text-anchor="middle">-14</text>
<text class="k" transform="translate(1610.7 1135) scale(0.731 1)" text-anchor="middle">0</text>
<text class="k" transform="translate(1646.8 1135) scale(0.731 1)" text-anchor="middle">14</text>
<text class="k" transform="translate(1682.9 1135) scale(0.731 1)" text-anchor="middle">28</text>
<text class="k" transform="translate(1727.1 1135) scale(0.731 1)" text-anchor="middle">40</text>
<text class="k" transform="translate(1781.7 1135) scale(0.731 1)" text-anchor="middle">140</text>
<text class="k" transform="translate(1836.1 1135) scale(0.731 1)" text-anchor="middle">240</text>
<text class="x" transform="translate(1718.3 1167.1) scale(0.777 1)" text-anchor="middle">Timepoint (Day)</text>
<text class="y" transform="translate(1531.9 979.45) rotate(-90) scale(1 0.777)" text-anchor="middle">IgA (g/L)</text>
<g fill="#ff0000" stroke="#ff0000">
<polyline class="ln" points="1610.85,1000.45 1618.75,1011.85 1629.35,990.35 1647.25,1012.95 1665.35,1023.75 1693.75,1040.25 1716.6,1044.69"/>
<polyline class="ln" points="1724.85,1046.29 1772.55,1055.55 1837.25,1053.25"/>
<ellipse class="m" cx="1610.85" cy="1000.45" rx="5.05" ry="6.35"/>
<ellipse class="m" cx="1618.75" cy="1011.85" rx="5.05" ry="6.35"/>
<ellipse class="m" cx="1629.35" cy="990.35" rx="5.05" ry="6.35"/>
<ellipse class="m" cx="1647.25" cy="1012.95" rx="5.05" ry="6.35"/>
<ellipse class="m" cx="1665.35" cy="1023.75" rx="5.05" ry="6.35"/>
<ellipse class="m" cx="1693.75" cy="1040.25" rx="5.05" ry="6.35"/>
<ellipse class="m" cx="1772.55" cy="1055.55" rx="5.05" ry="6.35"/>
<ellipse class="m" cx="1837.25" cy="1053.25" rx="5.05" ry="6.35"/>
</g>
<path class="dl" d="M1576.2 1043H1872.6" stroke-dashoffset="0"/>
</g>
<g class="panel">
<text class="t" transform="translate(202.8 1229.3) scale(0.758 1)" text-anchor="middle">BZ017-PD</text>
<g class="ax">
<path d="M56.6 1259.4V1525.9" stroke-width="2.35"/>
<path d="M50.9 1453.85H56.6" stroke-width="2.3"/>
<path d="M50.9 1389.8H56.6" stroke-width="2.3"/>
<path d="M50.9 1325.75H56.6" stroke-width="2.3"/>
<path d="M50.9 1261.7H56.6" stroke-width="2.3"/>
<path d="M50.9 1517.9H197.47" stroke-width="2.3"/>
<path d="M209.87 1517.9H350.9" stroke-width="2.3"/>
<path d="M92.7 1517.9V1525.9" stroke-width="2.35"/>
<path d="M128.8 1517.9V1525.9" stroke-width="2.35"/>
<path d="M164.9 1517.9V1525.9" stroke-width="2.35"/>
<path d="M196.3 1513.9V1522.9" stroke-width="2.35"/>
<path d="M211.05 1513.9V1525.9" stroke-width="2.35"/>
</g>
<text class="k" transform="translate(49.3 1524) scale(0.731 1)" text-anchor="end">0.00</text>
<text class="k" transform="translate(49.3 1459.95) scale(0.731 1)" text-anchor="end">0.72</text>
<text class="k" transform="translate(49.3 1395.9) scale(0.731 1)" text-anchor="end">1.44</text>
<text class="k" transform="translate(49.3 1331.85) scale(0.731 1)" text-anchor="end">2.16</text>
<text class="k" transform="translate(49.3 1267.8) scale(0.731 1)" text-anchor="end">2.88</text>
<text class="k" transform="translate(56.6 1545.9) scale(0.731 1)" text-anchor="middle">-14</text>
<text class="k" transform="translate(92.7 1545.9) scale(0.731 1)" text-anchor="middle">0</text>
<text class="k" transform="translate(128.8 1545.9) scale(0.731 1)" text-anchor="middle">14</text>
<text class="k" transform="translate(164.9 1545.9) scale(0.731 1)" text-anchor="middle">28</text>
<text class="k" transform="translate(211.05 1545.9) scale(0.731 1)" text-anchor="middle">40</text>
<text class="x" transform="translate(200.3 1578) scale(0.777 1)" text-anchor="middle">Timepoint (Day)</text>
<text class="y" transform="translate(13.9 1390.35) rotate(-90) scale(1 0.777)" text-anchor="middle">IgA (g/L)</text>
<g fill="#0000ff" stroke="#0000ff">
<polyline class="ln" points="69.85,1313.25 92.85,1346.65 100.85,1353.05 111.15,1337.35 124.15,1373.75 147.55,1457.75"/>
<ellipse class="m" cx="69.85" cy="1313.25" rx="5.05" ry="6.35"/>
<ellipse class="m" cx="92.85" cy="1346.65" rx="5.05" ry="6.35"/>
<ellipse class="m" cx="100.85" cy="1353.05" rx="5.05" ry="6.35"/>
<ellipse class="m" cx="111.15" cy="1337.35" rx="5.05" ry="6.35"/>
<ellipse class="m" cx="124.15" cy="1373.75" rx="5.05" ry="6.35"/>
<ellipse class="m" cx="147.55" cy="1457.75" rx="5.05" ry="6.35"/>
</g>
<path class="dl" d="M59.5 1452.2H346.4" stroke-dashoffset="0"/>
</g>
<g class="panel">
<text class="t" transform="translate(582.3 1229.3) scale(0.758 1)" text-anchor="middle">BZ018-SD</text>
<g class="ax">
<path d="M436.1 1259.4V1525.9" stroke-width="2.35"/>
<path d="M430.4 1453.85H436.1" stroke-width="2.3"/>
<path d="M430.4 1389.8H436.1" stroke-width="2.3"/>
<path d="M430.4 1325.75H436.1" stroke-width="2.3"/>
<path d="M430.4 1261.7H436.1" stroke-width="2.3"/>
<path d="M430.4 1517.9H576.97" stroke-width="2.3"/>
<path d="M589.38 1517.9H730.4" stroke-width="2.3"/>
<path d="M472.2 1517.9V1525.9" stroke-width="2.35"/>
<path d="M508.3 1517.9V1525.9" stroke-width="2.35"/>
<path d="M544.4 1517.9V1525.9" stroke-width="2.35"/>
<path d="M575.8 1513.9V1522.9" stroke-width="2.35"/>
<path d="M590.55 1513.9V1525.9" stroke-width="2.35"/>
<path d="M677.8 1517.9V1525.9" stroke-width="2.35"/>
</g>
<text class="k" transform="translate(428.8 1524) scale(0.731 1)" text-anchor="end">0.00</text>
<text class="k" transform="translate(428.8 1459.95) scale(0.731 1)" text-anchor="end">0.72</text>
<text class="k" transform="translate(428.8 1395.9) scale(0.731 1)" text-anchor="end">1.44</text>
<text class="k" transform="translate(428.8 1331.85) scale(0.731 1)" text-anchor="end">2.16</text>
<text class="k" transform="translate(428.8 1267.8) scale(0.731 1)" text-anchor="end">2.88</text>
<text class="k" transform="translate(436.1 1545.9) scale(0.731 1)" text-anchor="middle">-14</text>
<text class="k" transform="translate(472.2 1545.9) scale(0.731 1)" text-anchor="middle">0</text>
<text class="k" transform="translate(508.3 1545.9) scale(0.731 1)" text-anchor="middle">14</text>
<text class="k" transform="translate(544.4 1545.9) scale(0.731 1)" text-anchor="middle">28</text>
<text class="k" transform="translate(590.55 1545.9) scale(0.731 1)" text-anchor="middle">40</text>
<text class="k" transform="translate(677.8 1545.9) scale(0.731 1)" text-anchor="middle">140</text>
<text class="x" transform="translate(579.8 1578) scale(0.777 1)" text-anchor="middle">Timepoint (Day)</text>
<text class="y" transform="translate(393.4 1390.35) rotate(-90) scale(1 0.777)" text-anchor="middle">IgA (g/L)</text>
<g fill="#0000ff" stroke="#0000ff">
<polyline class="ln" points="462.25,1384.75 472.65,1400.95 480.35,1391.85 490.95,1370.75 508.75,1368.55 529.65,1389.05 550.35,1405.85 578.1,1420.16"/>
<polyline class="ln" points="588.3,1425.41 618.05,1440.75 653.15,1445.75 689.75,1457.95"/>
<ellipse class="m" cx="462.25" cy="1384.75" rx="5.05" ry="6.35"/>
<ellipse class="m" cx="472.65" cy="1400.95" rx="5.05" ry="6.35"/>
<ellipse class="m" cx="480.35" cy="1391.85" rx="5.05" ry="6.35"/>
<ellipse class="m" cx="490.95" cy="1370.75" rx="5.05" ry="6.35"/>
<ellipse class="m" cx="508.75" cy="1368.55" rx="5.05" ry="6.35"/>
<ellipse class="m" cx="529.65" cy="1389.05" rx="5.05" ry="6.35"/>
<ellipse class="m" cx="550.35" cy="1405.85" rx="5.05" ry="6.35"/>
<ellipse class="m" cx="618.05" cy="1440.75" rx="5.05" ry="6.35"/>
<ellipse class="m" cx="653.15" cy="1445.75" rx="5.05" ry="6.35"/>
<ellipse class="m" cx="689.75" cy="1457.95" rx="5.05" ry="6.35"/>
</g>
<path class="dl" d="M437.08 1452.2H724" stroke-dashoffset="0.84"/>
</g>
<g class="panel">
<text class="t" transform="translate(961.8 1229.3) scale(0.758 1)" text-anchor="middle">BZ019-CR</text>
<g class="ax">
<path d="M815.6 1259.4V1525.9" stroke-width="2.35"/>
<path d="M809.9 1453.85H815.6" stroke-width="2.3"/>
<path d="M809.9 1389.8H815.6" stroke-width="2.3"/>
<path d="M809.9 1325.75H815.6" stroke-width="2.3"/>
<path d="M809.9 1261.7H815.6" stroke-width="2.3"/>
<path d="M809.9 1517.9H956.47" stroke-width="2.3"/>
<path d="M968.88 1517.9H1109.9" stroke-width="2.3"/>
<path d="M851.7 1517.9V1525.9" stroke-width="2.35"/>
<path d="M887.8 1517.9V1525.9" stroke-width="2.35"/>
<path d="M923.9 1517.9V1525.9" stroke-width="2.35"/>
<path d="M955.3 1513.9V1522.9" stroke-width="2.35"/>
<path d="M970.05 1513.9V1525.9" stroke-width="2.35"/>
<path d="M1036.6 1517.9V1525.9" stroke-width="2.35"/>
<path d="M1103.3 1517.9V1525.9" stroke-width="2.35"/>
</g>
<text class="k" transform="translate(808.3 1524) scale(0.731 1)" text-anchor="end">0.00</text>
<text class="k" transform="translate(808.3 1459.95) scale(0.731 1)" text-anchor="end">0.72</text>
<text class="k" transform="translate(808.3 1395.9) scale(0.731 1)" text-anchor="end">1.44</text>
<text class="k" transform="translate(808.3 1331.85) scale(0.731 1)" text-anchor="end">2.16</text>
<text class="k" transform="translate(808.3 1267.8) scale(0.731 1)" text-anchor="end">2.88</text>
<text class="k" transform="translate(815.6 1545.9) scale(0.731 1)" text-anchor="middle">-14</text>
<text class="k" transform="translate(851.7 1545.9) scale(0.731 1)" text-anchor="middle">0</text>
<text class="k" transform="translate(887.8 1545.9) scale(0.731 1)" text-anchor="middle">14</text>
<text class="k" transform="translate(923.9 1545.9) scale(0.731 1)" text-anchor="middle">28</text>
<text class="k" transform="translate(970.05 1545.9) scale(0.731 1)" text-anchor="middle">40</text>
<text class="k" transform="translate(1036.6 1545.9) scale(0.731 1)" text-anchor="middle">140</text>
<text class="k" transform="translate(1103.3 1545.9) scale(0.731 1)" text-anchor="middle">240</text>
<text class="x" transform="translate(959.3 1578) scale(0.777 1)" text-anchor="middle">Timepoint (Day)</text>
<text class="y" transform="translate(772.9 1390.35) rotate(-90) scale(1 0.777)" text-anchor="middle">IgA (g/L)</text>
<g fill="#ff0000" stroke="#ff0000">
<polyline class="ln" points="815.95,1413.85 833.85,1389.05 841.75,1395.05 851.95,1390.15 870.25,1391.85 885.75,1436.05 903.85,1461.85 921.95,1474.35 957.6,1483.18"/>
<polyline class="ln" points="967.8,1485.71 1022.05,1499.15 1082.85,1489.45"/>
<ellipse class="m" cx="815.95" cy="1413.85" rx="5.05" ry="6.35"/>
<ellipse class="m" cx="833.85" cy="1389.05" rx="5.05" ry="6.35"/>
<ellipse class="m" cx="841.75" cy="1395.05" rx="5.05" ry="6.35"/>
<ellipse class="m" cx="851.95" cy="1390.15" rx="5.05" ry="6.35"/>
<ellipse class="m" cx="870.25" cy="1391.85" rx="5.05" ry="6.35"/>
<ellipse class="m" cx="885.75" cy="1436.05" rx="5.05" ry="6.35"/>
<ellipse class="m" cx="903.85" cy="1461.85" rx="5.05" ry="6.35"/>
<ellipse class="m" cx="921.95" cy="1474.35" rx="5.05" ry="6.35"/>
<ellipse class="m" cx="1022.05" cy="1499.15" rx="5.05" ry="6.35"/>
<ellipse class="m" cx="1082.85" cy="1489.45" rx="5.05" ry="6.35"/>
</g>
<path class="dl" d="M816.57 1453.8H1103.2" stroke-dashoffset="0.87"/>
</g>
<g class="panel">
<text class="t" transform="translate(1341.3 1229.3) scale(0.758 1)" text-anchor="middle">BZ020-CR</text>
<g class="ax">
<path d="M1195.1 1259.4V1525.9" stroke-width="2.35"/>
<path d="M1189.4 1453.85H1195.1" stroke-width="2.3"/>
<path d="M1189.4 1389.8H1195.1" stroke-width="2.3"/>
<path d="M1189.4 1325.75H1195.1" stroke-width="2.3"/>
<path d="M1189.4 1261.7H1195.1" stroke-width="2.3"/>
<path d="M1189.4 1517.9H1335.97" stroke-width="2.3"/>
<path d="M1348.38 1517.9H1489.4" stroke-width="2.3"/>
<path d="M1231.2 1517.9V1525.9" stroke-width="2.35"/>
<path d="M1267.3 1517.9V1525.9" stroke-width="2.35"/>
<path d="M1303.4 1517.9V1525.9" stroke-width="2.35"/>
<path d="M1334.8 1513.9V1522.9" stroke-width="2.35"/>
<path d="M1349.55 1513.9V1525.9" stroke-width="2.35"/>
<path d="M1416.1 1517.9V1525.9" stroke-width="2.35"/>
<path d="M1482.8 1517.9V1525.9" stroke-width="2.35"/>
<path d="M1336.1 1517.9H1348.55" stroke-width="1.8" stroke-dasharray="1.4 1.5"/>
</g>
<text class="k" transform="translate(1187.8 1524) scale(0.731 1)" text-anchor="end">0.00</text>
<text class="k" transform="translate(1187.8 1459.95) scale(0.731 1)" text-anchor="end">0.72</text>
<text class="k" transform="translate(1187.8 1395.9) scale(0.731 1)" text-anchor="end">1.44</text>
<text class="k" transform="translate(1187.8 1331.85) scale(0.731 1)" text-anchor="end">2.16</text>
<text class="k" transform="translate(1187.8 1267.8) scale(0.731 1)" text-anchor="end">2.88</text>
<text class="k" transform="translate(1195.1 1545.9) scale(0.731 1)" text-anchor="middle">-14</text>
<text class="k" transform="translate(1231.2 1545.9) scale(0.731 1)" text-anchor="middle">0</text>
<text class="k" transform="translate(1267.3 1545.9) scale(0.731 1)" text-anchor="middle">14</text>
<text class="k" transform="translate(1303.4 1545.9) scale(0.731 1)" text-anchor="middle">28</text>
<text class="k" transform="translate(1349.55 1545.9) scale(0.731 1)" text-anchor="middle">40</text>
<text class="k" transform="translate(1416.1 1545.9) scale(0.731 1)" text-anchor="middle">140</text>
<text class="k" transform="translate(1482.8 1545.9) scale(0.731 1)" text-anchor="middle">240</text>
<text class="x" transform="translate(1338.8 1578) scale(0.777 1)" text-anchor="middle">Timepoint (Day)</text>
<text class="y" transform="translate(1152.4 1390.35) rotate(-90) scale(1 0.777)" text-anchor="middle">IgA (g/L)</text>
<g fill="#ff0000" stroke="#ff0000">
<polyline class="ln" points="1231.25,1510.35 1236.65,1501.75 1249.55,1504.55 1267.65,1508.15 1285.95,1508.15 1304.05,1508.15 1337.1,1509.33"/>
<polyline class="ln" points="1347.3,1509.69 1407.85,1511.85 1438.85,1509.85 1452.85,1507.55 1462.55,1502.75"/>
<ellipse class="m" cx="1231.25" cy="1510.35" rx="5.05" ry="6.35"/>
<ellipse class="m" cx="1236.65" cy="1501.75" rx="5.05" ry="6.35"/>
<ellipse class="m" cx="1249.55" cy="1504.55" rx="5.05" ry="6.35"/>
<ellipse class="m" cx="1267.65" cy="1508.15" rx="5.05" ry="6.35"/>
<ellipse class="m" cx="1285.95" cy="1508.15" rx="5.05" ry="6.35"/>
<ellipse class="m" cx="1304.05" cy="1508.15" rx="5.05" ry="6.35"/>
<ellipse class="m" cx="1407.85" cy="1511.85" rx="5.05" ry="6.35"/>
<ellipse class="m" cx="1438.85" cy="1509.85" rx="5.05" ry="6.35"/>
<ellipse class="m" cx="1452.85" cy="1507.55" rx="5.05" ry="6.35"/>
<ellipse class="m" cx="1462.55" cy="1502.75" rx="5.05" ry="6.35"/>
</g>
<path class="dl" d="M1196.07 1453.7H1483.2" stroke-dashoffset="0.67"/>
</g>
<g class="panel">
<text class="t" transform="translate(1720.8 1229.3) scale(0.758 1)" text-anchor="middle">BZ021-CR</text>
<g class="ax">
<path d="M1574.6 1259.4V1525.9" stroke-width="2.35"/>
<path d="M1568.9 1453.85H1574.6" stroke-width="2.3"/>
<path d="M1568.9 1389.8H1574.6" stroke-width="2.3"/>
<path d="M1568.9 1325.75H1574.6" stroke-width="2.3"/>
<path d="M1568.9 1261.7H1574.6" stroke-width="2.3"/>
<path d="M1568.9 1517.9H1715.47" stroke-width="2.3"/>
<path d="M1727.88 1517.9H1868.9" stroke-width="2.3"/>
<path d="M1610.7 1517.9V1525.9" stroke-width="2.35"/>
<path d="M1646.8 1517.9V1525.9" stroke-width="2.35"/>
<path d="M1682.9 1517.9V1525.9" stroke-width="2.35"/>
<path d="M1714.3 1513.9V1522.9" stroke-width="2.35"/>
<path d="M1729.05 1513.9V1525.9" stroke-width="2.35"/>
<path d="M1795.6 1517.9V1525.9" stroke-width="2.35"/>
<path d="M1862.3 1517.9V1525.9" stroke-width="2.35"/>
</g>
<text class="k" transform="translate(1567.3 1524) scale(0.731 1)" text-anchor="end">0.00</text>
<text class="k" transform="translate(1567.3 1459.95) scale(0.731 1)" text-anchor="end">0.72</text>
<text class="k" transform="translate(1567.3 1395.9) scale(0.731 1)" text-anchor="end">1.44</text>
<text class="k" transform="translate(1567.3 1331.85) scale(0.731 1)" text-anchor="end">2.16</text>
<text class="k" transform="translate(1567.3 1267.8) scale(0.731 1)" text-anchor="end">2.88</text>
<text class="k" transform="translate(1574.6 1545.9) scale(0.731 1)" text-anchor="middle">-14</text>
<text class="k" transform="translate(1610.7 1545.9) scale(0.731 1)" text-anchor="middle">0</text>
<text class="k" transform="translate(1646.8 1545.9) scale(0.731 1)" text-anchor="middle">14</text>
<text class="k" transform="translate(1682.9 1545.9) scale(0.731 1)" text-anchor="middle">28</text>
<text class="k" transform="translate(1729.05 1545.9) scale(0.731 1)" text-anchor="middle">40</text>
<text class="k" transform="translate(1795.6 1545.9) scale(0.731 1)" text-anchor="middle">140</text>
<text class="k" transform="translate(1862.3 1545.9) scale(0.731 1)" text-anchor="middle">240</text>
<text class="x" transform="translate(1718.3 1578) scale(0.777 1)" text-anchor="middle">Timepoint (Day)</text>
<text class="y" transform="translate(1531.9 1390.35) rotate(-90) scale(1 0.777)" text-anchor="middle">IgA (g/L)</text>
<g fill="#ff0000" stroke="#ff0000">
<polyline class="ln" points="1595.35,1379.55 1605.85,1389.05 1616.15,1389.05 1629.35,1379.55 1647.25,1431.75 1665.55,1445.75 1683.65,1475.25 1716.6,1483.8"/>
<polyline class="ln" points="1726.8,1486.44 1777.35,1499.55 1837.85,1475.45"/>
<ellipse class="m" cx="1595.35" cy="1379.55" rx="5.05" ry="6.35"/>
<ellipse class="m" cx="1605.85" cy="1389.05" rx="5.05" ry="6.35"/>
<ellipse class="m" cx="1616.15" cy="1389.05" rx="5.05" ry="6.35"/>
<ellipse class="m" cx="1629.35" cy="1379.55" rx="5.05" ry="6.35"/>
<ellipse class="m" cx="1647.25" cy="1431.75" rx="5.05" ry="6.35"/>
<ellipse class="m" cx="1665.55" cy="1445.75" rx="5.05" ry="6.35"/>
<ellipse class="m" cx="1683.65" cy="1475.25" rx="5.05" ry="6.35"/>
<ellipse class="m" cx="1777.35" cy="1499.55" rx="5.05" ry="6.35"/>
<ellipse class="m" cx="1837.85" cy="1475.45" rx="5.05" ry="6.35"/>
</g>
<path class="dl" d="M1575.57 1453.7H1862.4" stroke-dashoffset="0.17"/>
</g>
<g class="panel">
<text class="t" transform="translate(202.8 1651.3) scale(0.758 1)" text-anchor="middle">BZ022-PD</text>
<g class="ax">
<path d="M56.6 1681.4V1947.9" stroke-width="2.35"/>
<path d="M50.9 1875.85H56.6" stroke-width="2.3"/>
<path d="M50.9 1811.8H56.6" stroke-width="2.3"/>
<path d="M50.9 1747.75H56.6" stroke-width="2.3"/>
<path d="M50.9 1683.7H56.6" stroke-width="2.3"/>
<path d="M50.9 1939.9H197.47" stroke-width="2.3"/>
<path d="M209.87 1939.9H350.9" stroke-width="2.3"/>
<path d="M92.7 1939.9V1947.9" stroke-width="2.35"/>
<path d="M128.8 1939.9V1947.9" stroke-width="2.35"/>
<path d="M164.9 1939.9V1947.9" stroke-width="2.35"/>
<path d="M196.3 1935.9V1944.9" stroke-width="2.35"/>
<path d="M211.05 1935.9V1947.9" stroke-width="2.35"/>
</g>
<text class="k" transform="translate(49.3 1946) scale(0.731 1)" text-anchor="end">0.00</text>
<text class="k" transform="translate(49.3 1881.95) scale(0.731 1)" text-anchor="end">0.72</text>
<text class="k" transform="translate(49.3 1817.9) scale(0.731 1)" text-anchor="end">1.44</text>
<text class="k" transform="translate(49.3 1753.85) scale(0.731 1)" text-anchor="end">2.16</text>
<text class="k" transform="translate(49.3 1689.8) scale(0.731 1)" text-anchor="end">2.88</text>
<text class="k" transform="translate(56.6 1967.9) scale(0.731 1)" text-anchor="middle">-14</text>
<text class="k" transform="translate(92.7 1967.9) scale(0.731 1)" text-anchor="middle">0</text>
<text class="k" transform="translate(128.8 1967.9) scale(0.731 1)" text-anchor="middle">14</text>
<text class="k" transform="translate(164.9 1967.9) scale(0.731 1)" text-anchor="middle">28</text>
<text class="k" transform="translate(211.05 1967.9) scale(0.731 1)" text-anchor="middle">40</text>
<text class="x" transform="translate(200.3 2000) scale(0.777 1)" text-anchor="middle">Timepoint (Day)</text>
<text class="y" transform="translate(13.9 1812.35) rotate(-90) scale(1 0.777)" text-anchor="middle">IgA (g/L)</text>
<g fill="#0000ff" stroke="#0000ff">
<polyline class="ln" points="59.05,1774.15 77.35,1782.75 92.85,1789.85 113.95,1788.15 150.15,1866.15 165.65,1894.75 196.65,1916.35"/>
<ellipse class="m" cx="59.05" cy="1774.15" rx="5.05" ry="6.35"/>
<ellipse class="m" cx="77.35" cy="1782.75" rx="5.05" ry="6.35"/>
<ellipse class="m" cx="92.85" cy="1789.85" rx="5.05" ry="6.35"/>
<ellipse class="m" cx="113.95" cy="1788.15" rx="5.05" ry="6.35"/>
<ellipse class="m" cx="150.15" cy="1866.15" rx="5.05" ry="6.35"/>
<ellipse class="m" cx="165.65" cy="1894.75" rx="5.05" ry="6.35"/>
<ellipse class="m" cx="196.65" cy="1916.35" rx="5.05" ry="6.35"/>
</g>
<path class="dl" d="M57.57 1874.2H344.8" stroke-dashoffset="0.52"/>
</g>
<g class="panel">
<text class="t" transform="translate(582.3 1651.3) scale(0.758 1)" text-anchor="middle">BZ023-PD</text>
<g class="ax">
<path d="M436.1 1681.4V1947.9" stroke-width="2.35"/>
<path d="M430.4 1875.85H436.1" stroke-width="2.3"/>
<path d="M430.4 1811.8H436.1" stroke-width="2.3"/>
<path d="M430.4 1747.75H436.1" stroke-width="2.3"/>
<path d="M430.4 1683.7H436.1" stroke-width="2.3"/>
<path d="M430.4 1939.9H576.97" stroke-width="2.3"/>
<path d="M589.38 1939.9H730.4" stroke-width="2.3"/>
<path d="M472.2 1939.9V1947.9" stroke-width="2.35"/>
<path d="M508.3 1939.9V1947.9" stroke-width="2.35"/>
<path d="M544.4 1939.9V1947.9" stroke-width="2.35"/>
<path d="M575.8 1935.9V1944.9" stroke-width="2.35"/>
<path d="M590.55 1935.9V1947.9" stroke-width="2.35"/>
<path d="M717.7 1939.9V1947.9" stroke-width="2.35"/>
</g>
<text class="k" transform="translate(428.8 1946) scale(0.731 1)" text-anchor="end">0.00</text>
<text class="k" transform="translate(428.8 1881.95) scale(0.731 1)" text-anchor="end">0.72</text>
<text class="k" transform="translate(428.8 1817.9) scale(0.731 1)" text-anchor="end">1.44</text>
<text class="k" transform="translate(428.8 1753.85) scale(0.731 1)" text-anchor="end">2.16</text>
<text class="k" transform="translate(428.8 1689.8) scale(0.731 1)" text-anchor="end">2.88</text>
<text class="k" transform="translate(436.1 1967.9) scale(0.731 1)" text-anchor="middle">-14</text>
<text class="k" transform="translate(472.2 1967.9) scale(0.731 1)" text-anchor="middle">0</text>
<text class="k" transform="translate(508.3 1967.9) scale(0.731 1)" text-anchor="middle">14</text>
<text class="k" transform="translate(544.4 1967.9) scale(0.731 1)" text-anchor="middle">28</text>
<text class="k" transform="translate(590.55 1967.9) scale(0.731 1)" text-anchor="middle">40</text>
<text class="k" transform="translate(717.7 1967.9) scale(0.731 1)" text-anchor="middle">140</text>
<text class="x" transform="translate(579.8 2000) scale(0.777 1)" text-anchor="middle">Timepoint (Day)</text>
<text class="y" transform="translate(393.4 1812.35) rotate(-90) scale(1 0.777)" text-anchor="middle">IgA (g/L)</text>
<g fill="#0000ff" stroke="#0000ff">
<polyline class="ln" points="456.85,1900.65 472.65,1892.65 490.95,1886.65 509.05,1900.15 527.15,1911.55 545.25,1926.65 578.1,1924"/>
<polyline class="ln" points="588.3,1923.18 665.65,1916.95"/>
<ellipse class="m" cx="456.85" cy="1900.65" rx="5.05" ry="6.35"/>
<ellipse class="m" cx="472.65" cy="1892.65" rx="5.05" ry="6.35"/>
<ellipse class="m" cx="490.95" cy="1886.65" rx="5.05" ry="6.35"/>
<ellipse class="m" cx="509.05" cy="1900.15" rx="5.05" ry="6.35"/>
<ellipse class="m" cx="527.15" cy="1911.55" rx="5.05" ry="6.35"/>
<ellipse class="m" cx="545.25" cy="1926.65" rx="5.05" ry="6.35"/>
<ellipse class="m" cx="665.65" cy="1916.95" rx="5.05" ry="6.35"/>
</g>
<path class="dl" d="M437.08 1875.7H724" stroke-dashoffset="0.84"/>
</g>
<g class="panel">
<text class="t" transform="translate(961.8 1651.3) scale(0.758 1)" text-anchor="middle">BZ024-PR</text>
<g class="ax">
<path d="M815.6 1681.4V1947.9" stroke-width="2.35"/>
<path d="M809.9 1875.85H815.6" stroke-width="2.3"/>
<path d="M809.9 1811.8H815.6" stroke-width="2.3"/>
<path d="M809.9 1747.75H815.6" stroke-width="2.3"/>
<path d="M809.9 1683.7H815.6" stroke-width="2.3"/>
<path d="M809.9 1939.9H956.47" stroke-width="2.3"/>
<path d="M968.88 1939.9H1109.9" stroke-width="2.3"/>
<path d="M851.7 1939.9V1947.9" stroke-width="2.35"/>
<path d="M887.8 1939.9V1947.9" stroke-width="2.35"/>
<path d="M923.9 1939.9V1947.9" stroke-width="2.35"/>
<path d="M955.3 1935.9V1944.9" stroke-width="2.35"/>
<path d="M970.05 1935.9V1947.9" stroke-width="2.35"/>
</g>
<text class="k" transform="translate(808.3 1946) scale(0.731 1)" text-anchor="end">0.00</text>
<text class="k" transform="translate(808.3 1881.95) scale(0.731 1)" text-anchor="end">0.72</text>
<text class="k" transform="translate(808.3 1817.9) scale(0.731 1)" text-anchor="end">1.44</text>
<text class="k" transform="translate(808.3 1753.85) scale(0.731 1)" text-anchor="end">2.16</text>
<text class="k" transform="translate(808.3 1689.8) scale(0.731 1)" text-anchor="end">2.88</text>
<text class="k" transform="translate(815.6 1967.9) scale(0.731 1)" text-anchor="middle">-14</text>
<text class="k" transform="translate(851.7 1967.9) scale(0.731 1)" text-anchor="middle">0</text>
<text class="k" transform="translate(887.8 1967.9) scale(0.731 1)" text-anchor="middle">14</text>
<text class="k" transform="translate(923.9 1967.9) scale(0.731 1)" text-anchor="middle">28</text>
<text class="k" transform="translate(970.05 1967.9) scale(0.731 1)" text-anchor="middle">40</text>
<text class="x" transform="translate(959.3 2000) scale(0.777 1)" text-anchor="middle">Timepoint (Day)</text>
<text class="y" transform="translate(772.9 1812.35) rotate(-90) scale(1 0.777)" text-anchor="middle">IgA (g/L)</text>
<g fill="#00ff00" stroke="#00ff00">
<polyline class="ln" points="833.85,1850.65 841.75,1844.55 870.25,1854.95 888.35,1876.05 906.45,1880.75 924.55,1894.15"/>
<ellipse class="m" cx="833.85" cy="1850.65" rx="5.05" ry="6.35"/>
<ellipse class="m" cx="841.75" cy="1844.55" rx="5.05" ry="6.35"/>
<ellipse class="m" cx="870.25" cy="1854.95" rx="5.05" ry="6.35"/>
<ellipse class="m" cx="888.35" cy="1876.05" rx="5.05" ry="6.35"/>
<ellipse class="m" cx="906.45" cy="1880.75" rx="5.05" ry="6.35"/>
<ellipse class="m" cx="924.55" cy="1894.15" rx="5.05" ry="6.35"/>
</g>
<path class="dl" d="M816.57 1874.2H1103.2" stroke-dashoffset="0.87"/>
</g>
<g class="panel">
<text class="t" transform="translate(1341.3 1651.3) scale(0.758 1)" text-anchor="middle">BZ025-CR</text>
<g class="ax">
<path d="M1195.1 1681.4V1947.9" stroke-width="2.35"/>
<path d="M1189.4 1875.85H1195.1" stroke-width="2.3"/>
<path d="M1189.4 1811.8H1195.1" stroke-width="2.3"/>
<path d="M1189.4 1747.75H1195.1" stroke-width="2.3"/>
<path d="M1189.4 1683.7H1195.1" stroke-width="2.3"/>
<path d="M1189.4 1939.9H1335.97" stroke-width="2.3"/>
<path d="M1348.38 1939.9H1489.4" stroke-width="2.3"/>
<path d="M1231.2 1939.9V1947.9" stroke-width="2.35"/>
<path d="M1267.3 1939.9V1947.9" stroke-width="2.35"/>
<path d="M1303.4 1939.9V1947.9" stroke-width="2.35"/>
<path d="M1334.8 1935.9V1944.9" stroke-width="2.35"/>
<path d="M1349.55 1935.9V1947.9" stroke-width="2.35"/>
<path d="M1476.7 1939.9V1947.9" stroke-width="2.35"/>
</g>
<text class="k" transform="translate(1187.8 1946) scale(0.731 1)" text-anchor="end">0.00</text>
<text class="k" transform="translate(1187.8 1881.95) scale(0.731 1)" text-anchor="end">0.72</text>
<text class="k" transform="translate(1187.8 1817.9) scale(0.731 1)" text-anchor="end">1.44</text>
<text class="k" transform="translate(1187.8 1753.85) scale(0.731 1)" text-anchor="end">2.16</text>
<text class="k" transform="translate(1187.8 1689.8) scale(0.731 1)" text-anchor="end">2.88</text>
<text class="k" transform="translate(1195.1 1967.9) scale(0.731 1)" text-anchor="middle">-14</text>
<text class="k" transform="translate(1231.2 1967.9) scale(0.731 1)" text-anchor="middle">0</text>
<text class="k" transform="translate(1267.3 1967.9) scale(0.731 1)" text-anchor="middle">14</text>
<text class="k" transform="translate(1303.4 1967.9) scale(0.731 1)" text-anchor="middle">28</text>
<text class="k" transform="translate(1349.55 1967.9) scale(0.731 1)" text-anchor="middle">40</text>
<text class="k" transform="translate(1476.7 1967.9) scale(0.731 1)" text-anchor="middle">140</text>
<text class="x" transform="translate(1338.8 2000) scale(0.777 1)" text-anchor="middle">Timepoint (Day)</text>
<text class="y" transform="translate(1152.4 1812.35) rotate(-90) scale(1 0.777)" text-anchor="middle">IgA (g/L)</text>
<g fill="#ff0000" stroke="#ff0000">
<polyline class="ln" points="1213.35,1810.35 1231.25,1820.45 1249.55,1816.85 1267.65,1842.05 1285.95,1858.55 1304.05,1863.55 1337.1,1865.79"/>
<polyline class="ln" points="1347.3,1866.49 1414.55,1871.05 1457.85,1867.05"/>
<ellipse class="m" cx="1213.35" cy="1810.35" rx="5.05" ry="6.35"/>
<ellipse class="m" cx="1231.25" cy="1820.45" rx="5.05" ry="6.35"/>
<ellipse class="m" cx="1249.55" cy="1816.85" rx="5.05" ry="6.35"/>
<ellipse class="m" cx="1267.65" cy="1842.05" rx="5.05" ry="6.35"/>
<ellipse class="m" cx="1285.95" cy="1858.55" rx="5.05" ry="6.35"/>
<ellipse class="m" cx="1304.05" cy="1863.55" rx="5.05" ry="6.35"/>
<ellipse class="m" cx="1414.55" cy="1871.05" rx="5.05" ry="6.35"/>
<ellipse class="m" cx="1457.85" cy="1867.05" rx="5.05" ry="6.35"/>
</g>
<path class="dl" d="M1196.07 1875.7H1484" stroke-dashoffset="0.67"/>
</g>
<g class="panel">
<text class="t" transform="translate(1720.8 1651.3) scale(0.758 1)" text-anchor="middle">BZ026-PR</text>
<g class="ax">
<path d="M1574.6 1681.4V1947.9" stroke-width="2.35"/>
<path d="M1568.9 1880H1574.6" stroke-width="2.3"/>
<path d="M1568.9 1820.1H1574.6" stroke-width="2.3"/>
<path d="M1568.9 1760.2H1574.6" stroke-width="2.3"/>
<path d="M1568.9 1700.3H1574.6" stroke-width="2.3"/>
<path d="M1568.9 1939.9H1715.47" stroke-width="2.3"/>
<path d="M1727.88 1939.9H1868.9" stroke-width="2.3"/>
<path d="M1610.7 1939.9V1947.9" stroke-width="2.35"/>
<path d="M1646.8 1939.9V1947.9" stroke-width="2.35"/>
<path d="M1682.9 1939.9V1947.9" stroke-width="2.35"/>
<path d="M1714.3 1935.9V1944.9" stroke-width="2.35"/>
<path d="M1729.05 1935.9V1947.9" stroke-width="2.35"/>
</g>
<text class="k" transform="translate(1567.3 1946) scale(0.731 1)" text-anchor="end">0.00</text>
<text class="k" transform="translate(1567.3 1886.1) scale(0.731 1)" text-anchor="end">0.72</text>
<text class="k" transform="translate(1567.3 1826.2) scale(0.731 1)" text-anchor="end">1.44</text>
<text class="k" transform="translate(1567.3 1766.3) scale(0.731 1)" text-anchor="end">2.16</text>
<text class="k" transform="translate(1567.3 1706.4) scale(0.731 1)" text-anchor="end">2.88</text>
<text class="k" transform="translate(1574.6 1967.9) scale(0.731 1)" text-anchor="middle">-14</text>
<text class="k" transform="translate(1610.7 1967.9) scale(0.731 1)" text-anchor="middle">0</text>
<text class="k" transform="translate(1646.8 1967.9) scale(0.731 1)" text-anchor="middle">14</text>
<text class="k" transform="translate(1682.9 1967.9) scale(0.731 1)" text-anchor="middle">28</text>
<text class="k" transform="translate(1729.05 1967.9) scale(0.731 1)" text-anchor="middle">40</text>
<text class="x" transform="translate(1718.3 2000) scale(0.777 1)" text-anchor="middle">Timepoint (Day)</text>
<text class="y" transform="translate(1531.9 1812.35) rotate(-90) scale(1 0.777)" text-anchor="middle">IgA (g/L)</text>
<g fill="#00ff00" stroke="#00ff00">
<polyline class="ln" points="1592.75,1713.25 1611.05,1719.85 1629.35,1681.55 1647.25,1746.15 1665.55,1819.35 1683.65,1839.85"/>
<ellipse class="m" cx="1592.75" cy="1713.25" rx="5.05" ry="6.35"/>
<ellipse class="m" cx="1611.05" cy="1719.85" rx="5.05" ry="6.35"/>
<ellipse class="m" cx="1629.35" cy="1681.55" rx="5.05" ry="6.35"/>
<ellipse class="m" cx="1647.25" cy="1746.15" rx="5.05" ry="6.35"/>
<ellipse class="m" cx="1665.55" cy="1819.35" rx="5.05" ry="6.35"/>
<ellipse class="m" cx="1683.65" cy="1839.85" rx="5.05" ry="6.35"/>
</g>
<path class="dl" d="M1576.24 1879.5H1863.2" stroke-dashoffset="0"/>
</g>
</svg>
</body>
</html>
